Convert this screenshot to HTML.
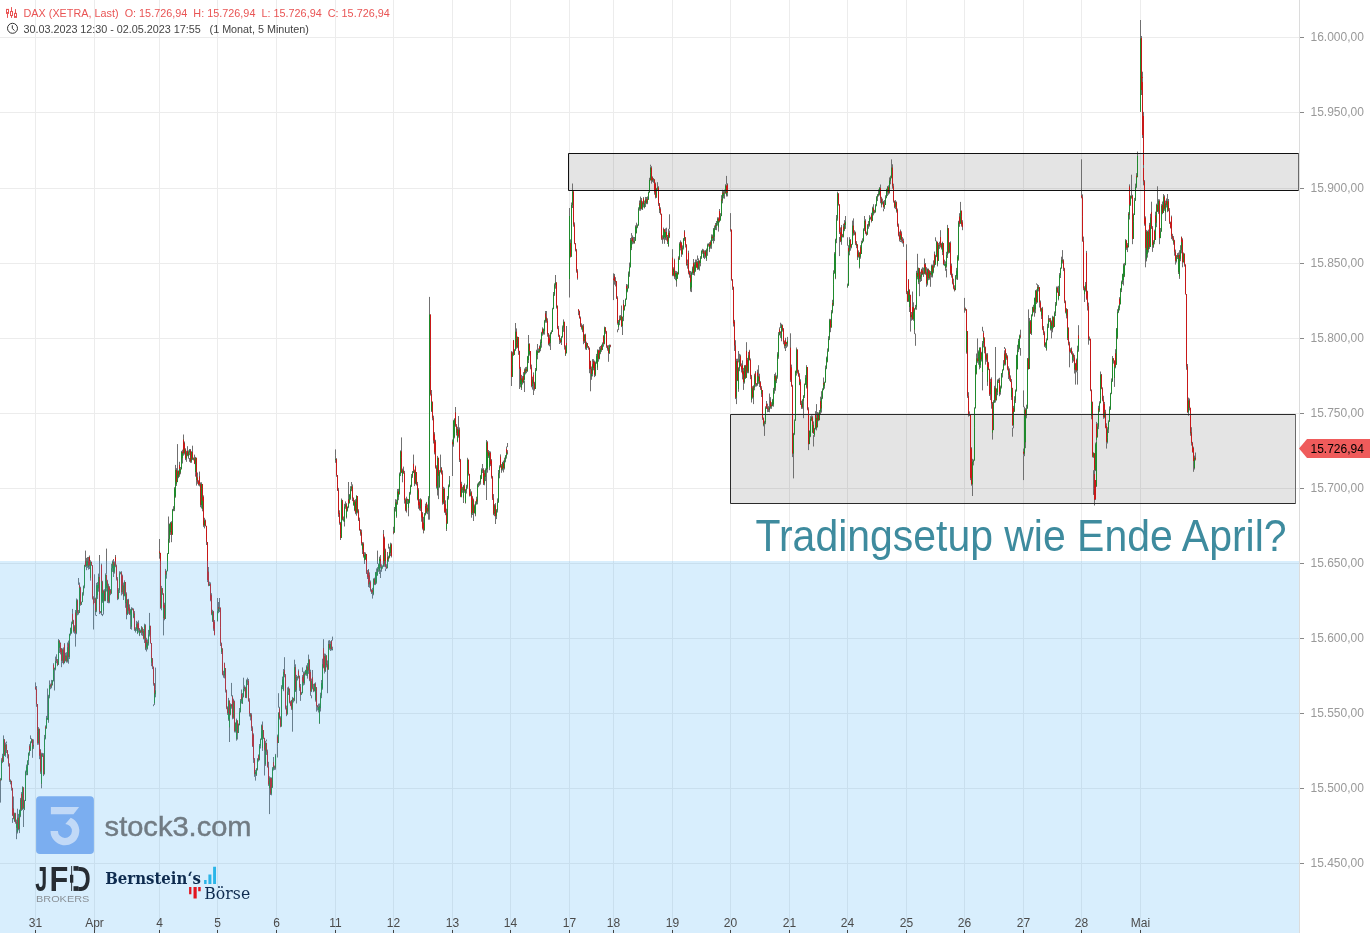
<!DOCTYPE html><html><head><meta charset="utf-8"><title>DAX Chart</title><style>
html,body{margin:0;padding:0;background:#fff;}body{width:1370px;height:933px;overflow:hidden;position:relative;font-family:"Liberation Sans",Arial,sans-serif;}
svg{position:absolute;left:0;top:0;}
.yl{font-size:12px;fill:#999;}.xl{font-size:12px;fill:#4a4a4a;}
</style></head><body>
<svg width="1370" height="933" viewBox="0 0 1370 933">
<path d="M0 37.5H1299M0 112.5H1299M0 188.5H1299M0 263.5H1299M0 338.5H1299M0 413.5H1299M0 488.5H1299M0 563.5H1299M0 638.5H1299M0 713.5H1299M0 788.5H1299M0 863.5H1299M35.5 0V933M94.5 0V933M159.5 0V933M217.5 0V933M276.5 0V933M335.5 0V933M393.5 0V933M452.5 0V933M510.5 0V933M569.5 0V933M613.5 0V933M672.5 0V933M730.5 0V933M789.5 0V933M847.5 0V933M906.5 0V933M964.5 0V933M1023.5 0V933M1081.5 0V933M1140.5 0V933" stroke="#ececec" stroke-width="1" fill="none"/>
<rect x="568" y="153" width="731" height="38" fill="rgba(0,0,0,0.105)"/>
<rect x="730" y="414" width="566" height="90" fill="rgba(0,0,0,0.105)"/>
<g fill="none" stroke-width="1">
<path stroke="#707070" d="M0.5 778.2V783.2M0.5 778.7V781.5M1.5 765.8V780.2M1.5 758.2V766.6M2.5 755.3V761.4M2.5 753.8V763.1M3.5 737.8V761.7M4.5 739.3V754.3M4.5 751.0V756.0M5.5 746.2V756.8M5.5 742.5V750.3M6.5 743.5V753.0M6.5 748.4V752.8M7.5 750.2V758.4M8.5 754.4V763.3M8.5 758.5V766.5M9.5 763.4V769.7M9.5 767.6V781.9M10.5 779.7V784.1M10.5 779.6V784.3M11.5 780.9V790.6M12.5 787.9V795.5M12.5 793.9V816.1M13.5 807.3V818.5M13.5 808.0V819.3M14.5 817.7V821.7M14.5 812.6V821.8M15.5 812.8V823.7M16.5 819.6V828.7M16.5 821.0V828.9M17.5 820.9V833.5M17.5 815.6V831.9M18.5 813.9V830.3M19.5 825.2V830.9M19.5 809.6V826.4M20.5 808.2V817.1M20.5 797.9V817.1M21.5 792.6V802.0M21.5 792.2V810.9M22.5 786.3V809.6M23.5 787.4V799.6M23.5 797.4V809.1M24.5 806.0V810.1M24.5 799.9V809.5M25.5 788.5V801.0M25.5 770.6V789.8M26.5 764.6V775.3M27.5 763.9V775.2M27.5 760.2V774.7M28.5 758.6V765.1M28.5 752.4V761.0M29.5 744.2V755.7M29.5 745.3V753.3M30.5 741.3V750.8M31.5 738.5V743.2M31.5 738.5V742.4M32.5 739.3V753.6M32.5 744.7V753.2M33.5 743.2V748.9M0.5 782.7V802.6M3.5 735.4V738.3M6.5 741.5V743.0M12.5 818.0V822.9M13.5 796.5V808.5M16.5 828.4V839.2M17.5 808.7V816.1M19.5 825.9V833.1M23.5 809.6V827.0M30.5 735.4V739.0M32.5 753.1V757.8M33.5 739.4V743.7M35.5 685.0V689.8M36.5 686.0V699.3M36.5 692.5V706.8M37.5 704.0V732.4M37.5 730.7V744.8M38.5 727.1V744.7M39.5 728.8V738.6M39.5 735.1V759.2M40.5 749.8V758.5M40.5 749.1V773.9M41.5 769.2V784.6M41.5 752.7V783.7M42.5 752.9V757.0M43.5 753.2V772.7M43.5 767.4V775.2M44.5 745.0V774.3M44.5 734.9V747.5M45.5 725.6V739.4M45.5 725.7V730.2M46.5 715.9V728.5M47.5 717.4V720.0M47.5 714.5V719.9M48.5 714.0V722.8M48.5 694.8V720.1M49.5 693.3V696.9M49.5 684.2V698.3M50.5 683.6V689.2M51.5 680.7V688.3M51.5 679.9V687.0M52.5 681.5V685.3M52.5 680.0V683.5M53.5 663.2V681.5M53.5 664.9V671.4M54.5 667.6V672.2M55.5 663.0V670.2M55.5 656.6V670.2M56.5 654.3V663.2M56.5 657.8V662.9M57.5 659.0V664.0M57.5 661.0V666.2M58.5 639.1V664.9M59.5 640.2V652.0M59.5 641.5V653.0M60.5 642.5V648.9M60.5 643.6V654.4M61.5 648.0V653.2M61.5 648.1V661.7M62.5 648.4V663.1M63.5 647.4V656.3M63.5 651.3V664.4M64.5 643.2V663.3M64.5 643.2V661.3M65.5 652.7V661.5M65.5 653.6V660.2M66.5 652.2V662.6M67.5 656.0V662.5M67.5 642.5V659.5M68.5 642.2V651.2M68.5 640.6V659.1M69.5 640.4V659.0M69.5 633.6V642.9M70.5 627.6V635.6M71.5 626.6V633.7M71.5 621.6V633.4M72.5 612.3V624.2M72.5 613.2V621.1M73.5 619.8V629.2M73.5 623.5V632.6M74.5 625.2V633.7M75.5 612.1V628.9M75.5 610.0V638.7M76.5 607.1V634.2M76.5 598.5V612.3M77.5 599.4V615.3M77.5 611.3V614.4M78.5 610.0V614.6M79.5 584.3V612.9M79.5 582.5V589.4M80.5 586.7V605.7M80.5 599.2V605.2M81.5 602.2V605.0M81.5 601.6V603.9M82.5 592.2V602.1M83.5 591.6V595.6M83.5 585.5V592.8M84.5 573.0V588.3M84.5 564.7V578.3M85.5 556.5V567.1M85.5 559.4V566.7M86.5 557.9V570.2M87.5 558.5V567.7M87.5 557.1V567.5M88.5 556.9V567.5M88.5 561.7V569.6M89.5 555.5V569.0M89.5 556.2V566.7M90.5 561.5V580.5M90.5 560.3V580.3M91.5 561.8V565.8M92.5 565.3V596.1M92.5 592.2V599.5M93.5 596.3V606.3M35.5 682.4V685.5M41.5 784.1V788.3M43.5 774.7V776.1M47.5 688.5V715.0M49.5 680.4V684.7M54.5 671.7V690.5M61.5 661.2V667.2M68.5 658.6V663.7M72.5 608.9V612.8M75.5 638.2V646.6M78.5 578.0V584.8M85.5 550.6V557.0M93.5 605.8V629.5M94.5 597.1V603.1M95.5 597.6V614.0M95.5 608.9V615.5M96.5 582.9V612.2M97.5 584.7V598.9M97.5 582.1V596.3M98.5 584.2V591.7M98.5 573.6V589.3M99.5 574.2V606.6M99.5 602.3V614.1M100.5 611.0V613.3M101.5 563.6V615.1M101.5 565.1V583.6M102.5 580.8V602.7M102.5 587.6V602.5M103.5 589.7V614.5M103.5 590.2V611.7M104.5 589.2V601.3M105.5 582.4V601.2M105.5 573.4V586.6M106.5 574.4V588.2M106.5 577.0V591.5M107.5 579.8V602.4M107.5 583.5V602.9M108.5 583.7V603.3M109.5 586.4V603.2M109.5 586.3V592.0M110.5 589.0V592.7M110.5 590.8V595.2M111.5 588.6V593.6M111.5 563.8V590.2M112.5 560.5V571.9M113.5 559.0V573.7M113.5 563.8V577.0M114.5 563.6V573.6M114.5 561.4V572.4M115.5 556.6V566.7M115.5 557.3V567.2M116.5 564.6V580.5M117.5 577.1V594.4M117.5 590.4V599.2M118.5 589.9V599.3M118.5 588.2V592.7M119.5 580.8V593.0M119.5 571.3V585.5M120.5 571.7V574.4M121.5 571.2V589.4M121.5 581.5V595.4M122.5 575.0V594.2M122.5 574.6V590.5M123.5 582.5V600.0M123.5 594.8V597.8M124.5 580.3V596.3M125.5 582.0V607.0M125.5 590.0V607.8M126.5 592.3V603.1M126.5 598.8V619.3M127.5 604.4V615.1M127.5 599.1V608.4M128.5 598.8V613.8M129.5 606.9V612.2M129.5 604.4V615.0M130.5 611.0V616.0M130.5 608.9V614.6M131.5 608.2V627.2M131.5 607.2V629.7M132.5 607.8V610.3M133.5 608.4V618.2M133.5 610.6V618.0M134.5 611.1V616.0M134.5 613.6V630.9M135.5 628.8V632.0M135.5 627.3V632.5M136.5 620.8V630.9M137.5 621.8V634.1M137.5 626.3V633.3M138.5 620.4V629.4M138.5 621.4V632.6M139.5 628.0V635.4M139.5 629.4V636.1M140.5 629.6V633.1M141.5 626.0V635.3M141.5 626.6V628.7M142.5 627.2V635.9M142.5 628.7V634.0M143.5 629.4V633.2M143.5 629.1V639.4M144.5 623.7V643.0M145.5 624.3V650.1M145.5 643.7V649.5M146.5 637.8V648.4M146.5 639.1V645.5M147.5 639.6V649.4M147.5 639.7V649.2M148.5 629.9V645.6M149.5 626.1V636.5M149.5 624.6V635.4M150.5 625.8V636.1M150.5 635.3V643.7M151.5 643.0V666.2M151.5 656.5V663.2M152.5 658.2V669.1M153.5 666.7V684.2M153.5 681.6V685.7M154.5 683.0V704.9M154.5 690.2V703.1M155.5 690.6V697.3M155.5 689.3V694.7M94.5 574.3V597.6M96.5 615.0V616.1M99.5 555.0V574.7M102.5 614.0V616.1M106.5 548.6V573.9M115.5 555.0V557.1M117.5 598.7V600.1M130.5 615.5V629.0M146.5 647.9V651.5M149.5 612.9V625.1M153.5 704.4V706.2M155.5 667.6V689.8M159.5 548.4V554.2M159.5 550.6V558.7M160.5 552.9V566.7M160.5 565.4V608.8M161.5 588.1V610.3M161.5 585.9V589.5M162.5 588.2V594.9M163.5 593.5V620.1M163.5 607.5V619.7M164.5 602.9V611.0M164.5 602.8V620.3M165.5 568.9V619.0M165.5 569.4V577.8M166.5 570.6V578.7M167.5 554.1V571.2M167.5 553.0V558.4M168.5 539.7V553.9M168.5 537.5V543.2M169.5 523.5V542.8M170.5 523.4V534.9M170.5 521.9V534.5M171.5 521.2V531.1M171.5 529.2V536.3M172.5 527.4V534.7M172.5 508.9V528.0M173.5 506.2V511.2M174.5 498.8V511.1M174.5 487.2V503.4M175.5 486.5V497.7M175.5 464.9V496.3M176.5 468.2V485.9M176.5 476.5V483.9M177.5 470.5V482.1M178.5 470.5V478.2M178.5 470.7V477.5M179.5 464.3V476.8M179.5 461.8V472.9M180.5 467.0V474.3M180.5 467.8V472.5M181.5 450.9V469.3M182.5 449.7V463.5M182.5 451.8V462.9M183.5 438.5V453.9M183.5 438.3V455.7M184.5 442.4V454.5M184.5 441.5V453.1M185.5 448.3V460.1M186.5 452.3V460.9M186.5 450.8V456.3M187.5 446.2V455.4M187.5 450.4V456.2M188.5 453.8V458.7M188.5 450.4V457.9M189.5 449.0V455.2M190.5 449.0V458.5M190.5 456.4V462.8M191.5 456.1V462.8M191.5 451.2V458.3M192.5 450.0V456.0M192.5 452.3V460.0M193.5 457.5V460.4M194.5 454.6V460.8M194.5 457.2V464.1M195.5 462.7V476.6M195.5 456.9V476.1M196.5 457.8V485.6M196.5 475.9V481.2M197.5 472.5V483.8M198.5 481.1V484.1M198.5 480.2V485.6M199.5 471.6V485.2M199.5 474.6V486.4M200.5 482.4V488.8M200.5 483.5V507.2M201.5 482.3V508.5M202.5 484.0V510.8M202.5 498.6V511.3M203.5 495.4V506.3M203.5 497.1V526.9M204.5 519.1V528.4M204.5 517.8V524.4M205.5 519.6V526.4M206.5 525.9V541.1M206.5 539.2V545.0M207.5 542.0V556.6M207.5 556.0V582.1M208.5 567.0V580.8M208.5 570.2V586.2M209.5 581.7V586.0M210.5 582.4V594.4M210.5 591.9V601.3M211.5 593.2V603.7M211.5 595.3V615.2M212.5 611.7V622.0M212.5 609.8V622.0M213.5 610.9V630.8M214.5 620.2V630.8M214.5 620.3V635.4M159.5 539.0V548.9M163.5 619.6V635.4M168.5 516.5V538.0M171.5 534.0V542.2M177.5 444.1V471.0M183.5 434.5V438.8M186.5 460.4V461.8M189.5 458.0V461.8M192.5 445.7V450.5M217.5 616.2V621.5M217.5 610.0V620.6M218.5 602.0V613.2M218.5 605.5V611.1M219.5 604.8V612.1M220.5 607.6V628.2M220.5 626.8V646.0M221.5 642.6V654.0M221.5 646.7V652.9M222.5 648.4V662.4M222.5 658.5V675.3M223.5 670.8V677.7M224.5 662.6V678.4M224.5 663.3V670.0M225.5 668.0V685.4M225.5 677.7V692.5M226.5 689.6V697.1M226.5 691.6V709.2M227.5 706.4V714.9M228.5 711.2V720.8M228.5 697.9V720.0M229.5 700.6V729.2M229.5 713.3V730.4M230.5 709.1V715.3M230.5 703.3V712.0M231.5 704.0V708.7M232.5 695.8V707.4M232.5 695.3V719.3M233.5 699.7V718.8M233.5 698.7V704.6M234.5 700.6V703.5M234.5 701.7V732.4M235.5 722.3V732.5M236.5 721.8V740.3M236.5 718.6V740.5M237.5 720.4V732.9M237.5 728.6V735.2M238.5 723.8V733.0M238.5 723.6V727.7M239.5 708.0V725.4M240.5 709.6V712.5M240.5 699.0V711.2M241.5 692.7V703.5M241.5 689.5V703.1M242.5 699.0V703.9M242.5 693.1V703.3M243.5 686.1V697.5M244.5 685.4V691.3M244.5 685.8V689.8M245.5 686.7V694.2M245.5 691.6V698.0M246.5 688.7V698.2M246.5 679.4V693.1M247.5 678.4V685.1M248.5 679.0V697.5M248.5 694.1V701.7M249.5 698.3V711.2M249.5 709.2V716.5M250.5 713.0V720.4M250.5 713.0V717.6M251.5 713.2V731.0M252.5 726.3V736.2M252.5 731.1V747.0M253.5 733.4V746.6M253.5 734.9V762.9M254.5 758.0V767.1M254.5 764.1V776.8M255.5 769.9V776.7M256.5 771.3V776.0M256.5 768.1V774.6M257.5 767.4V770.5M257.5 758.1V769.2M258.5 754.6V761.5M258.5 754.7V761.2M259.5 744.0V760.4M260.5 742.9V747.9M260.5 738.5V748.5M261.5 728.9V739.8M261.5 724.5V734.1M262.5 722.6V749.5M262.5 728.3V750.9M263.5 730.1V739.0M264.5 737.9V751.6M264.5 746.1V750.7M265.5 747.0V765.4M265.5 740.9V765.8M266.5 742.6V754.9M267.5 749.6V754.7M267.5 753.6V767.6M268.5 761.8V781.7M268.5 777.6V785.9M269.5 781.4V791.2M269.5 776.3V789.1M270.5 777.2V795.0M271.5 777.7V795.3M271.5 777.6V789.3M272.5 781.4V788.0M272.5 767.1V783.3M273.5 761.6V770.5M273.5 757.0V768.6M274.5 765.6V769.9M275.5 765.3V768.7M275.5 753.9V769.7M217.5 598.0V610.5M219.5 598.0V605.3M229.5 729.9V742.0M231.5 682.9V696.3M237.5 734.7V739.5M243.5 677.7V685.9M247.5 677.7V678.9M255.5 776.3V780.6M262.5 721.5V723.1M264.5 751.1V775.5M266.5 739.5V741.4M269.5 790.7V814.1M277.5 735.6V740.7M277.5 734.6V746.8M278.5 712.2V743.0M279.5 707.1V715.1M279.5 706.8V719.5M280.5 716.3V721.9M280.5 720.3V727.3M281.5 711.6V726.5M281.5 685.2V712.8M282.5 676.6V689.1M283.5 677.7V691.2M283.5 669.0V689.8M284.5 669.3V677.3M284.5 668.7V677.0M285.5 674.0V689.4M285.5 687.4V709.5M286.5 705.6V716.2M287.5 707.8V714.4M287.5 687.4V711.0M288.5 686.6V695.0M288.5 687.6V693.4M289.5 688.4V703.4M290.5 700.8V704.4M290.5 701.0V706.2M291.5 699.9V709.9M291.5 700.5V709.3M292.5 707.6V711.9M292.5 696.9V711.1M293.5 697.8V702.5M294.5 676.1V701.2M294.5 664.2V682.6M295.5 664.3V691.4M295.5 689.4V692.0M296.5 676.1V694.0M296.5 674.9V682.5M297.5 676.1V680.5M298.5 669.4V678.5M298.5 671.1V678.1M299.5 675.8V685.5M299.5 679.5V690.9M300.5 684.8V689.0M300.5 684.0V697.5M301.5 691.9V694.7M302.5 675.1V693.2M302.5 676.7V684.5M303.5 671.6V685.0M303.5 672.0V685.5M304.5 671.8V684.7M304.5 671.5V675.6M305.5 669.8V675.4M306.5 669.3V674.9M306.5 665.3V675.8M307.5 663.1V678.1M307.5 669.3V678.6M308.5 663.5V673.9M308.5 657.7V667.3M309.5 659.5V681.2M310.5 669.7V681.3M310.5 672.1V695.8M311.5 678.6V692.1M311.5 680.0V683.1M312.5 676.7V681.7M312.5 676.8V689.3M313.5 683.9V692.2M314.5 687.2V691.5M314.5 683.3V689.8M315.5 682.4V701.4M315.5 686.6V701.4M316.5 687.2V696.5M316.5 691.5V711.6M317.5 705.1V710.4M318.5 706.1V711.2M318.5 703.7V712.5M319.5 706.0V723.8M319.5 703.5V723.2M320.5 703.2V711.5M320.5 692.7V710.1M321.5 680.0V698.2M322.5 681.5V689.7M322.5 658.7V688.1M323.5 644.2V666.1M323.5 644.1V668.3M324.5 654.6V671.6M324.5 653.5V673.5M325.5 653.8V672.0M326.5 655.4V663.0M326.5 662.5V667.4M327.5 663.0V666.9M327.5 660.4V671.5M328.5 652.3V669.6M328.5 640.5V656.0M329.5 640.1V649.8M330.5 644.5V650.8M330.5 641.2V650.9M331.5 640.4V644.7M331.5 640.1V650.4M332.5 646.7V650.4M277.5 746.3V757.5M278.5 693.2V707.6M284.5 657.2V669.2M292.5 711.4V731.7M294.5 659.7V664.7M296.5 693.5V703.5M300.5 690.4V700.9M302.5 667.4V672.1M308.5 654.6V658.2M311.5 695.3V698.3M312.5 670.0V677.2M323.5 639.2V644.7M327.5 666.9V693.2M332.5 636.6V640.6M335.5 455.2V462.8M336.5 458.2V461.4M336.5 459.7V476.8M337.5 475.1V487.0M337.5 483.0V491.0M338.5 487.9V514.1M338.5 510.1V516.9M339.5 510.3V524.7M340.5 521.9V535.2M340.5 533.9V540.0M341.5 522.8V537.9M341.5 498.5V524.5M342.5 499.9V502.5M342.5 501.3V520.4M343.5 516.5V521.5M344.5 517.3V526.5M344.5 503.8V523.4M345.5 503.8V508.8M345.5 501.4V506.9M346.5 503.2V518.5M346.5 507.4V516.9M347.5 506.4V511.6M348.5 496.4V508.2M348.5 496.9V504.8M349.5 496.5V503.3M349.5 494.1V500.3M350.5 491.4V499.8M350.5 486.2V498.4M351.5 485.3V491.2M352.5 484.4V495.9M352.5 492.3V501.1M353.5 497.5V505.3M353.5 500.8V505.7M354.5 500.4V511.2M354.5 500.0V510.7M355.5 499.2V514.2M356.5 498.5V515.7M356.5 495.2V502.4M357.5 496.0V513.2M357.5 509.8V513.2M358.5 509.2V514.4M358.5 510.6V521.0M359.5 517.6V530.7M360.5 529.1V534.5M360.5 529.6V535.7M361.5 529.7V537.5M361.5 535.6V545.5M362.5 542.3V550.7M362.5 542.4V554.0M363.5 542.3V557.6M364.5 552.1V560.6M364.5 553.6V564.0M365.5 553.3V559.7M365.5 552.5V560.0M366.5 554.0V573.9M366.5 568.8V574.0M367.5 570.0V579.0M368.5 570.0V578.3M368.5 569.0V587.1M369.5 574.4V587.8M369.5 572.4V584.5M370.5 580.5V589.2M370.5 585.8V591.6M371.5 589.2V594.0M372.5 589.4V594.3M372.5 587.9V593.8M373.5 591.6V594.4M373.5 578.3V595.3M374.5 577.7V585.1M374.5 579.2V584.9M375.5 571.9V585.1M376.5 568.4V583.8M376.5 569.3V582.3M377.5 571.0V575.8M377.5 567.1V575.1M378.5 563.5V571.8M379.5 563.8V571.3M379.5 556.7V574.0M380.5 555.1V566.0M380.5 562.0V568.6M381.5 564.3V570.0M381.5 565.1V571.8M382.5 565.4V568.8M383.5 532.3V566.6M383.5 532.3V565.6M384.5 536.6V566.8M384.5 538.3V552.2M385.5 548.7V555.2M385.5 549.5V567.5M386.5 564.2V569.0M387.5 552.0V568.2M387.5 556.4V562.4M388.5 555.8V561.8M388.5 555.9V559.0M389.5 548.1V558.4M389.5 546.8V555.8M390.5 542.7V556.1M391.5 543.4V556.7M335.5 449.4V455.7M348.5 482.0V497.0M351.5 482.0V484.9M372.5 593.9V598.6M377.5 550.6V564.0M380.5 569.5V578.0M383.5 530.0V532.8M385.5 568.5V571.1M388.5 543.7V548.6M391.5 556.2V557.4M393.5 526.8V534.3M394.5 509.7V532.6M394.5 507.0V512.2M395.5 499.2V511.5M396.5 499.6V517.3M396.5 500.9V517.7M397.5 496.3V504.8M397.5 489.0V498.4M398.5 488.8V498.9M398.5 491.3V500.2M399.5 472.5V494.6M400.5 454.9V476.1M400.5 450.4V457.9M401.5 448.6V459.7M401.5 454.9V473.1M402.5 470.8V478.7M402.5 468.6V482.3M403.5 466.6V473.8M404.5 470.9V489.5M404.5 486.2V503.6M405.5 498.4V505.2M405.5 502.4V511.2M406.5 507.5V512.6M406.5 496.7V511.3M407.5 498.8V504.0M408.5 500.2V508.8M408.5 499.0V508.6M409.5 499.8V503.3M409.5 491.9V503.1M410.5 488.7V494.7M410.5 484.8V491.9M411.5 479.7V487.0M411.5 474.0V482.9M412.5 471.0V477.9M413.5 462.3V473.1M413.5 461.8V473.0M414.5 469.6V481.0M414.5 478.7V486.1M415.5 465.6V484.3M415.5 467.2V473.2M416.5 472.1V485.5M417.5 481.9V500.3M417.5 487.3V499.6M418.5 488.1V496.2M418.5 492.3V508.8M419.5 499.2V507.4M419.5 499.3V510.4M420.5 498.2V511.1M421.5 499.6V507.5M421.5 505.5V521.7M422.5 512.1V519.6M422.5 512.5V529.6M423.5 519.9V530.5M423.5 516.8V531.9M424.5 513.0V530.4M425.5 505.4V515.4M425.5 503.7V515.1M426.5 501.9V513.5M426.5 502.7V510.2M427.5 504.5V510.9M427.5 506.1V514.2M428.5 496.1V514.5M429.5 439.6V501.1M429.5 312.6V442.8M430.5 314.5V367.9M430.5 366.6V395.6M431.5 390.0V412.0M431.5 399.6V411.8M432.5 401.7V420.3M433.5 415.7V425.4M433.5 420.1V443.5M434.5 433.0V442.8M434.5 432.2V454.4M435.5 439.8V455.5M435.5 441.7V468.6M436.5 465.3V488.5M437.5 485.3V492.0M437.5 455.9V495.5M438.5 457.8V478.2M438.5 472.8V477.7M439.5 470.7V487.8M439.5 470.1V487.0M440.5 467.8V472.6M441.5 467.3V472.3M441.5 467.1V474.5M442.5 470.4V501.2M442.5 498.7V504.7M443.5 497.1V504.1M443.5 486.8V501.2M444.5 487.7V512.8M445.5 500.3V513.6M445.5 502.8V515.2M446.5 508.7V531.0M446.5 518.4V529.2M447.5 506.9V523.6M447.5 496.0V511.1M448.5 484.5V499.6M449.5 478.9V487.2M401.5 437.4V449.1M408.5 508.3V516.3M413.5 454.6V462.3M423.5 531.4V533.4M428.5 514.0V519.7M429.5 296.9V313.1M429.5 500.6V519.7M438.5 477.7V499.1M440.5 454.6V468.3M449.5 476.0V479.4M452.5 439.9V443.7M452.5 439.5V446.3M453.5 419.8V446.7M454.5 419.9V438.3M454.5 418.2V438.1M455.5 411.3V421.4M455.5 412.3V426.8M456.5 424.1V433.3M456.5 424.8V435.5M457.5 426.8V442.3M457.5 435.4V442.1M458.5 426.4V437.7M459.5 427.4V460.4M459.5 452.9V462.0M460.5 458.9V486.5M460.5 482.9V497.2M461.5 482.3V497.3M461.5 481.8V489.3M462.5 486.8V492.8M463.5 485.7V500.8M463.5 485.1V500.1M464.5 483.5V490.8M464.5 485.7V492.8M465.5 489.1V503.5M465.5 489.6V502.5M466.5 484.8V493.5M467.5 467.6V488.7M467.5 457.8V472.0M468.5 459.7V473.4M468.5 470.3V475.6M469.5 473.9V483.9M469.5 481.0V496.5M470.5 489.1V496.2M471.5 491.3V517.7M471.5 511.9V516.1M472.5 495.9V515.0M472.5 497.5V501.3M473.5 498.6V503.8M473.5 500.2V515.8M474.5 504.5V513.5M475.5 501.4V516.3M475.5 501.7V514.7M476.5 497.3V504.7M476.5 496.7V502.0M477.5 491.7V504.3M477.5 483.5V494.6M478.5 482.2V487.2M479.5 481.2V483.9M479.5 481.1V485.7M480.5 478.6V484.6M480.5 474.9V481.5M481.5 474.8V479.1M481.5 468.3V478.6M482.5 468.7V473.0M483.5 468.2V476.5M483.5 472.9V485.0M484.5 470.2V485.3M484.5 471.3V476.6M485.5 474.7V481.1M485.5 468.4V479.8M486.5 440.7V471.2M487.5 441.2V469.4M487.5 450.2V472.7M488.5 450.0V457.5M488.5 454.0V457.9M489.5 455.0V470.2M489.5 451.1V469.4M490.5 451.5V466.1M491.5 459.3V467.4M491.5 459.5V478.6M492.5 475.9V488.0M492.5 486.3V500.0M493.5 494.1V509.6M493.5 505.8V515.2M494.5 509.9V516.2M494.5 504.1V515.0M495.5 503.1V520.5M496.5 513.5V519.1M496.5 509.1V517.0M497.5 506.2V512.5M497.5 498.4V507.7M498.5 499.8V502.8M498.5 470.0V501.1M499.5 465.3V478.3M500.5 454.4V467.7M500.5 456.5V466.6M501.5 464.1V472.8M501.5 468.2V471.3M502.5 464.7V470.5M502.5 461.9V468.2M503.5 460.6V472.4M504.5 462.8V469.5M504.5 457.7V465.4M505.5 456.8V462.3M505.5 455.0V460.5M506.5 448.3V458.6M506.5 446.6V454.0M507.5 450.1V454.6M452.5 445.8V476.0M455.5 407.0V411.8M458.5 416.0V426.9M463.5 500.3V503.0M473.5 503.3V521.0M482.5 464.0V468.8M486.5 440.0V441.2M486.5 470.7V500.0M495.5 520.0V524.0M507.5 443.0V447.1M511.5 352.0V354.5M511.5 351.1V378.4M512.5 361.7V376.9M512.5 351.7V365.3M513.5 340.0V355.7M513.5 339.9V355.7M514.5 349.1V354.8M515.5 346.9V350.9M515.5 327.7V350.2M516.5 328.4V344.9M516.5 340.5V348.8M517.5 342.8V348.1M517.5 336.5V345.7M518.5 337.1V354.8M519.5 350.9V363.1M519.5 358.6V370.1M520.5 366.9V386.8M520.5 379.3V387.3M521.5 378.5V390.0M521.5 374.9V389.1M522.5 376.1V384.6M523.5 372.1V383.2M523.5 374.8V381.0M524.5 370.0V380.2M524.5 368.5V376.6M525.5 367.2V374.4M525.5 367.7V372.2M526.5 366.8V373.2M527.5 364.5V371.8M527.5 355.9V367.3M528.5 353.7V361.0M528.5 342.3V363.1M529.5 343.3V355.0M529.5 349.6V355.7M530.5 351.1V369.3M531.5 364.6V374.0M531.5 367.8V387.3M532.5 383.9V389.6M532.5 376.7V387.4M533.5 372.4V381.1M533.5 373.3V387.8M534.5 381.8V390.6M535.5 386.2V389.0M535.5 368.0V386.9M536.5 361.6V371.1M536.5 349.7V366.2M537.5 350.7V356.7M537.5 349.6V359.3M538.5 348.4V353.0M539.5 345.6V352.7M539.5 345.8V351.2M540.5 342.6V351.2M540.5 339.4V347.4M541.5 341.1V347.7M541.5 331.8V345.6M542.5 327.9V335.7M542.5 327.4V334.7M543.5 328.5V334.6M544.5 328.5V332.8M544.5 319.9V334.6M545.5 312.2V322.7M545.5 311.0V318.7M546.5 315.5V322.6M546.5 316.3V322.3M547.5 318.3V336.7M548.5 333.0V339.2M548.5 335.4V345.3M549.5 335.8V346.3M549.5 334.7V344.1M550.5 339.3V344.6M550.5 332.2V342.4M551.5 330.3V334.2M552.5 316.8V332.0M552.5 307.8V319.7M553.5 302.4V309.2M553.5 292.0V303.0M554.5 286.0V295.9M554.5 283.3V289.8M555.5 281.0V288.7M556.5 282.4V308.5M556.5 303.9V308.2M557.5 305.7V316.9M557.5 316.2V329.2M558.5 325.9V335.3M558.5 332.8V336.9M559.5 334.8V342.8M560.5 338.2V341.6M560.5 338.7V343.2M561.5 339.2V345.0M561.5 336.1V340.8M562.5 326.5V337.7M562.5 325.5V330.6M563.5 319.4V331.8M564.5 321.8V348.2M564.5 341.3V349.6M565.5 345.4V356.0M565.5 350.1V354.8M566.5 341.0V353.3M566.5 342.3V347.2M511.5 377.9V386.0M515.5 323.0V347.4M519.5 369.6V389.0M524.5 380.5V392.0M528.5 335.0V342.8M533.5 386.9V395.0M537.5 344.0V350.1M546.5 311.0V316.0M550.5 344.1V350.0M555.5 275.0V281.5M559.5 342.3V344.0M566.5 326.0V341.5M569.5 252.9V259.0M569.5 241.4V258.1M570.5 239.4V257.5M571.5 239.6V256.7M571.5 202.5V240.8M572.5 195.3V208.0M572.5 190.0V198.4M573.5 191.3V204.9M573.5 203.1V226.7M574.5 222.4V244.2M575.5 243.0V247.7M575.5 245.5V251.4M576.5 248.9V258.5M576.5 254.5V272.7M577.5 269.2V279.7M569.5 258.5V297.5M572.5 183.5V195.8M578.5 309.3V315.2M579.5 310.6V317.5M579.5 314.2V318.7M580.5 316.5V326.9M581.5 323.4V328.3M581.5 324.9V329.6M582.5 324.8V331.6M582.5 325.7V332.2M583.5 324.1V337.4M583.5 330.4V344.2M584.5 334.2V343.0M585.5 333.7V345.2M585.5 339.7V349.5M586.5 346.9V350.0M586.5 341.7V348.8M587.5 343.1V347.4M587.5 344.7V347.7M588.5 346.2V349.7M589.5 347.7V365.1M589.5 363.5V373.2M590.5 360.7V372.3M590.5 361.2V369.7M591.5 366.5V379.8M591.5 373.1V377.4M592.5 362.3V376.4M593.5 359.2V368.1M593.5 359.9V370.3M594.5 360.6V368.7M594.5 361.4V377.1M595.5 364.1V376.1M595.5 361.6V368.6M596.5 353.9V363.8M597.5 355.3V370.0M597.5 349.4V367.5M598.5 349.7V354.8M598.5 351.7V361.7M599.5 349.6V359.3M599.5 346.9V355.8M600.5 346.0V354.2M601.5 344.8V351.7M601.5 344.8V351.3M602.5 343.5V349.9M602.5 342.4V348.1M603.5 335.7V346.7M603.5 335.2V345.1M604.5 326.6V344.3M605.5 327.0V333.3M605.5 330.4V333.7M606.5 330.9V342.8M606.5 339.0V347.8M607.5 345.3V350.7M607.5 346.4V350.0M608.5 345.1V353.0M608.5 347.0V354.2M609.5 344.5V354.0M610.5 344.7V347.3M590.5 371.8V391.3M592.5 359.1V362.8M608.5 352.5V361.8M613.5 275.9V282.8M613.5 276.9V284.3M614.5 273.9V284.7M614.5 274.8V282.4M615.5 277.2V283.5M615.5 278.6V286.4M616.5 281.2V299.0M617.5 296.3V305.4M617.5 301.2V324.7M618.5 321.1V329.9M618.5 320.0V330.1M619.5 316.7V325.2M619.5 315.5V321.7M620.5 315.1V320.4M621.5 315.4V318.4M621.5 314.0V327.1M622.5 320.7V329.3M622.5 316.5V323.8M623.5 300.1V321.1M623.5 299.9V311.7M624.5 305.1V310.6M625.5 302.2V306.4M625.5 298.5V302.8M626.5 284.6V299.8M626.5 284.0V293.1M627.5 284.5V291.6M627.5 285.4V292.3M628.5 271.5V288.3M629.5 267.8V276.8M629.5 262.6V271.8M630.5 252.6V267.3M630.5 238.0V255.3M631.5 238.9V249.9M631.5 236.3V250.1M632.5 235.4V241.7M632.5 236.9V244.3M633.5 236.9V243.7M634.5 240.3V243.7M634.5 237.0V242.5M635.5 229.6V240.8M635.5 225.3V234.3M636.5 222.7V233.5M636.5 223.4V232.8M637.5 224.4V228.2M638.5 207.4V225.5M638.5 207.7V211.1M639.5 202.3V210.7M639.5 200.5V206.1M640.5 201.6V210.8M640.5 196.6V210.0M641.5 198.0V209.4M642.5 207.6V210.0M642.5 201.2V209.3M643.5 197.3V205.8M643.5 197.3V207.3M644.5 200.6V208.4M644.5 201.2V207.7M645.5 196.9V207.0M646.5 197.0V202.4M646.5 198.1V204.1M647.5 197.8V204.2M647.5 196.4V201.0M648.5 193.2V199.7M648.5 191.6V196.4M649.5 177.8V192.5M650.5 171.5V180.6M650.5 166.9V174.6M651.5 166.2V181.4M651.5 177.7V183.6M652.5 176.9V181.9M652.5 176.4V181.3M653.5 178.0V182.8M654.5 179.2V190.7M654.5 188.0V194.7M655.5 182.5V192.9M655.5 183.4V198.4M656.5 194.9V197.9M656.5 187.9V197.8M657.5 186.1V190.1M658.5 186.2V192.2M658.5 190.6V205.9M659.5 203.0V212.8M659.5 208.0V213.1M660.5 207.3V212.7M660.5 211.6V214.8M661.5 213.8V219.4M661.5 217.8V239.9M662.5 235.3V240.5M663.5 227.6V239.6M663.5 228.4V233.0M664.5 229.1V241.0M664.5 229.1V241.9M665.5 228.4V238.9M665.5 230.4V239.9M666.5 231.1V240.5M667.5 235.0V241.4M667.5 239.2V244.0M668.5 240.2V246.8M668.5 228.8V245.7M669.5 230.5V238.1M613.5 273.3V276.4M613.5 283.8V300.1M617.5 329.4V332.3M621.5 305.5V314.5M622.5 328.8V335.0M631.5 233.1V235.9M650.5 164.7V166.7M657.5 182.2V186.6M662.5 240.0V243.8M664.5 241.4V243.8M666.5 227.7V231.6M669.5 214.3V229.3M672.5 255.3V262.0M672.5 255.5V276.2M673.5 269.0V276.2M673.5 267.3V275.2M674.5 258.7V271.3M674.5 260.3V278.9M675.5 270.8V280.2M676.5 271.2V284.1M676.5 271.5V282.0M677.5 271.8V278.9M677.5 273.6V278.4M678.5 257.1V274.3M678.5 256.3V262.2M679.5 242.3V260.0M680.5 240.4V245.8M680.5 241.1V250.4M681.5 241.8V250.5M681.5 242.5V256.9M682.5 248.1V254.7M682.5 245.4V251.8M683.5 238.0V249.5M684.5 230.1V240.9M684.5 231.6V238.6M685.5 237.3V246.6M685.5 243.1V247.5M686.5 244.5V264.8M686.5 261.3V265.7M687.5 259.5V268.7M688.5 250.7V266.1M688.5 253.0V274.3M689.5 270.6V274.1M689.5 271.2V277.7M690.5 271.0V290.7M690.5 279.9V291.6M691.5 280.2V289.6M691.5 271.6V290.1M692.5 266.6V274.8M693.5 261.6V271.0M693.5 261.3V275.0M694.5 264.2V275.6M694.5 262.3V270.3M695.5 263.0V271.9M695.5 259.5V270.7M696.5 259.6V267.8M697.5 261.6V268.8M697.5 260.8V269.6M698.5 266.9V269.2M698.5 258.4V269.5M699.5 260.3V264.8M699.5 261.6V266.8M700.5 256.1V266.3M701.5 250.5V258.9M701.5 250.6V253.7M702.5 249.3V252.5M702.5 248.8V253.8M703.5 249.4V257.5M703.5 252.0V258.0M704.5 250.4V259.1M705.5 250.2V255.0M705.5 250.4V257.8M706.5 254.6V260.4M706.5 248.6V260.9M707.5 248.6V255.8M707.5 243.6V253.5M708.5 243.3V246.6M709.5 242.2V252.1M709.5 245.9V250.9M710.5 240.8V248.6M710.5 240.5V246.5M711.5 243.4V247.0M711.5 234.4V248.8M712.5 234.6V241.0M713.5 237.6V243.5M713.5 228.0V241.8M714.5 226.3V241.1M714.5 225.5V237.3M715.5 223.1V230.0M715.5 223.0V227.1M716.5 221.0V230.2M717.5 219.2V225.6M717.5 217.3V222.0M718.5 217.4V231.6M718.5 219.5V229.0M719.5 209.0V222.4M719.5 209.6V221.9M720.5 213.2V220.5M721.5 195.5V216.1M721.5 195.3V203.4M722.5 191.4V203.3M722.5 189.8V194.6M723.5 190.5V198.4M723.5 190.7V196.3M724.5 189.6V198.7M725.5 189.1V193.7M725.5 184.2V193.4M726.5 185.1V196.4M726.5 190.4V196.2M727.5 183.3V196.4M727.5 184.6V193.6M672.5 249.2V255.8M676.5 283.6V286.7M691.5 289.6V292.1M693.5 259.0V261.8M697.5 255.5V260.1M697.5 268.3V269.7M699.5 266.3V270.6M726.5 175.9V184.7M730.5 227.2V231.6M731.5 229.7V249.8M731.5 247.9V280.7M732.5 279.1V283.4M732.5 281.8V289.9M733.5 286.8V326.5M734.5 319.9V325.1M734.5 321.8V350.9M735.5 340.2V385.1M735.5 379.3V399.1M736.5 394.5V399.4M736.5 358.8V397.7M737.5 358.7V381.1M738.5 379.6V391.8M738.5 367.2V389.8M739.5 361.9V371.2M739.5 353.8V363.3M740.5 354.6V361.5M740.5 356.2V366.6M741.5 363.4V372.5M742.5 363.4V370.8M742.5 360.4V379.4M743.5 370.3V375.6M743.5 367.9V384.8M744.5 365.1V383.6M745.5 364.9V371.9M745.5 368.4V378.9M746.5 350.3V377.8M746.5 349.1V367.8M747.5 359.6V366.9M747.5 357.9V373.2M748.5 351.9V373.2M749.5 349.8V356.5M749.5 351.3V360.5M750.5 358.4V366.3M750.5 361.1V379.2M751.5 374.9V401.1M751.5 386.5V402.5M752.5 386.2V398.6M753.5 385.9V402.1M753.5 385.4V389.1M754.5 384.4V390.3M754.5 373.7V386.7M755.5 371.2V377.2M755.5 371.5V386.7M756.5 383.0V386.5M757.5 369.7V385.8M757.5 369.9V378.2M758.5 375.1V383.0M758.5 373.5V383.8M759.5 373.7V384.0M759.5 377.2V387.0M760.5 381.2V389.9M761.5 386.2V394.7M761.5 386.7V397.0M762.5 390.1V394.1M762.5 392.5V419.9M763.5 417.5V426.3M763.5 421.9V426.1M764.5 420.7V428.1M765.5 419.8V424.2M765.5 406.3V423.0M766.5 401.5V408.5M766.5 401.0V409.0M767.5 405.2V412.2M767.5 403.6V409.7M768.5 406.1V412.0M769.5 407.8V412.3M769.5 403.3V409.7M770.5 397.7V408.6M770.5 397.2V408.4M771.5 403.3V408.6M771.5 402.2V408.6M772.5 398.9V406.3M773.5 397.6V406.7M773.5 387.9V405.1M774.5 377.3V393.7M774.5 374.1V384.3M775.5 372.6V390.8M775.5 378.9V389.6M776.5 375.3V383.1M777.5 360.5V378.7M777.5 352.2V362.3M778.5 348.7V358.8M778.5 332.1V357.2M779.5 327.8V335.4M779.5 327.5V333.0M780.5 331.2V337.9M781.5 331.9V339.5M781.5 323.8V341.3M782.5 324.6V330.3M782.5 327.1V331.6M783.5 328.0V331.6M783.5 329.3V344.3M784.5 340.5V348.4M785.5 338.6V346.7M785.5 337.8V344.8M786.5 341.8V347.7M786.5 342.0V347.6M787.5 341.8V346.6M787.5 338.9V344.0M730.5 213.1V227.7M736.5 398.9V404.1M738.5 351.0V362.4M743.5 384.3V389.9M746.5 342.2V349.6M753.5 389.8V404.1M758.5 365.2V374.0M764.5 427.6V435.9M769.5 393.5V403.8M780.5 322.7V328.0M785.5 346.2V351.0M787.5 336.9V339.4M790.5 346.9V350.6M790.5 346.7V381.9M791.5 364.6V382.2M791.5 366.4V386.8M792.5 384.8V412.9M792.5 409.5V457.1M793.5 432.9V457.5M794.5 420.2V435.1M794.5 419.4V424.1M795.5 386.5V420.7M795.5 370.6V388.8M796.5 369.6V375.6M796.5 348.3V374.8M797.5 349.5V373.6M798.5 369.8V375.2M798.5 370.1V376.8M799.5 373.3V385.1M799.5 379.2V385.1M800.5 379.3V392.3M800.5 387.2V405.0M801.5 400.7V408.9M802.5 399.1V408.8M802.5 400.0V405.5M803.5 397.7V401.5M803.5 395.1V401.9M804.5 389.6V398.0M804.5 383.5V392.3M805.5 375.1V385.0M806.5 376.4V388.0M806.5 365.8V388.5M807.5 367.0V393.6M807.5 390.3V410.3M808.5 407.3V428.2M808.5 424.4V445.9M809.5 430.4V444.1M810.5 426.8V437.2M810.5 416.1V436.1M811.5 417.2V421.1M811.5 415.3V420.6M812.5 415.7V432.7M812.5 422.6V433.1M813.5 421.4V434.1M814.5 430.2V435.6M814.5 427.9V436.8M815.5 411.6V429.5M815.5 411.3V418.8M816.5 415.2V430.4M816.5 423.9V428.9M817.5 412.1V427.3M818.5 412.5V418.2M818.5 416.1V421.2M819.5 413.2V420.2M819.5 410.0V417.5M820.5 399.9V414.6M820.5 396.7V409.3M821.5 401.8V412.6M821.5 391.2V405.4M822.5 388.3V399.1M823.5 380.3V390.3M823.5 377.5V385.9M824.5 382.4V388.7M824.5 381.7V385.7M825.5 375.3V382.5M825.5 365.5V378.5M826.5 356.6V369.2M827.5 354.1V362.4M827.5 348.4V361.3M828.5 341.9V351.5M828.5 336.2V343.9M829.5 321.6V340.1M829.5 318.8V324.0M830.5 318.9V332.2M831.5 322.5V327.5M831.5 310.1V323.3M832.5 300.6V313.4M832.5 299.8V306.5M833.5 282.8V306.1M833.5 270.3V286.2M834.5 252.2V273.8M835.5 251.5V279.2M835.5 238.7V277.6M836.5 228.2V243.2M836.5 215.0V232.6M837.5 201.1V220.7M837.5 191.7V203.8M838.5 193.4V205.6M839.5 204.4V216.7M839.5 213.9V234.0M840.5 227.4V237.5M840.5 232.9V242.1M841.5 225.1V244.8M841.5 225.8V236.3M842.5 233.9V237.4M843.5 225.0V237.5M843.5 223.7V231.0M844.5 220.1V231.2M844.5 222.2V225.4M845.5 220.2V228.9M790.5 333.3V347.2M793.5 457.0V478.4M796.5 347.5V348.8M803.5 401.4V418.2M806.5 365.2V366.3M808.5 445.4V450.1M813.5 435.1V446.5M816.5 404.1V415.7M839.5 237.0V256.1M845.5 216.0V220.7M847.5 283.6V287.8M848.5 245.2V285.6M848.5 247.3V253.6M849.5 246.6V255.3M849.5 237.6V253.2M850.5 239.1V250.7M851.5 244.2V248.3M851.5 243.9V245.8M852.5 235.3V244.5M852.5 220.6V237.4M853.5 220.2V229.8M853.5 225.3V235.6M854.5 230.3V235.2M855.5 231.6V238.2M855.5 233.8V245.1M856.5 241.1V247.1M856.5 243.1V248.2M857.5 244.4V257.3M857.5 254.0V260.0M858.5 250.4V257.6M859.5 252.3V268.5M859.5 255.6V267.1M860.5 246.5V258.7M860.5 245.2V255.5M861.5 242.6V254.0M861.5 240.7V244.6M862.5 238.3V243.3M863.5 235.0V241.7M863.5 228.3V239.2M864.5 221.8V231.1M864.5 219.3V228.1M865.5 219.2V225.4M865.5 222.5V234.2M866.5 231.5V235.8M867.5 231.0V234.6M867.5 224.1V231.6M868.5 221.0V228.8M868.5 222.2V226.1M869.5 221.0V225.9M869.5 215.2V226.6M870.5 216.7V219.6M871.5 212.8V218.4M871.5 214.0V222.5M872.5 209.7V220.9M872.5 206.7V212.6M873.5 206.5V215.4M873.5 210.1V214.2M874.5 209.8V213.4M875.5 204.8V212.6M875.5 204.2V208.5M876.5 196.7V206.3M876.5 196.2V199.2M877.5 194.9V201.1M877.5 194.0V197.8M878.5 189.4V196.5M879.5 192.0V195.1M879.5 187.1V195.4M880.5 184.5V193.7M880.5 191.3V203.3M881.5 196.8V207.2M881.5 201.7V207.3M882.5 198.6V204.5M883.5 200.9V207.0M883.5 204.0V207.7M884.5 200.0V209.0M884.5 201.4V206.5M885.5 199.7V205.0M885.5 195.3V201.3M886.5 188.7V198.3M887.5 186.7V196.1M887.5 186.0V195.6M888.5 185.3V192.8M888.5 189.3V194.7M889.5 188.4V193.6M889.5 177.4V190.8M890.5 175.7V184.3M891.5 164.4V178.4M891.5 163.4V169.0M892.5 164.3V182.4M892.5 178.6V188.7M893.5 183.7V195.8M893.5 190.4V202.6M894.5 200.6V208.2M895.5 202.4V209.1M895.5 200.1V204.5M896.5 201.5V211.5M896.5 208.7V212.6M897.5 208.5V224.3M897.5 219.7V226.8M898.5 223.6V236.4M899.5 231.7V239.0M899.5 236.7V241.4M900.5 229.5V240.6M900.5 230.5V237.5M901.5 231.4V237.4M901.5 233.0V242.4M902.5 237.1V243.5M903.5 238.6V246.8M847.5 237.3V245.7M849.5 237.3V247.1M853.5 218.4V220.7M864.5 216.0V219.7M873.5 204.2V207.0M883.5 208.5V211.3M891.5 159.4V163.9M900.5 240.9V242.0M906.5 256.8V261.8M906.5 259.4V294.1M907.5 290.9V302.0M908.5 279.0V302.0M908.5 280.1V293.3M909.5 289.6V312.0M909.5 293.2V308.2M910.5 294.7V302.8M910.5 299.7V320.6M911.5 312.0V320.7M912.5 303.7V319.3M912.5 306.8V319.9M913.5 304.2V320.8M913.5 302.3V315.1M914.5 311.1V330.5M914.5 308.2V334.1M915.5 304.9V309.6M916.5 295.9V309.8M916.5 270.8V298.5M917.5 270.8V279.3M917.5 275.0V277.9M918.5 275.8V283.2M918.5 267.6V284.1M919.5 268.2V282.9M920.5 274.2V281.9M920.5 271.7V277.9M921.5 268.7V281.0M921.5 269.0V276.5M922.5 269.5V274.9M922.5 267.3V274.6M923.5 267.7V276.9M924.5 260.7V274.3M924.5 262.5V269.4M925.5 263.1V268.4M925.5 263.1V274.8M926.5 270.0V275.0M926.5 267.2V286.1M927.5 268.4V285.4M928.5 268.6V277.3M928.5 275.0V280.2M929.5 270.1V279.7M929.5 271.0V274.4M930.5 271.1V277.6M930.5 272.5V276.9M931.5 264.6V277.3M932.5 264.6V277.5M932.5 268.4V277.0M933.5 260.4V273.3M933.5 263.1V269.1M934.5 251.9V267.6M934.5 251.6V265.8M935.5 254.9V264.7M936.5 240.7V257.1M936.5 241.0V246.2M937.5 241.8V266.4M937.5 259.2V264.3M938.5 247.9V260.9M938.5 243.1V251.0M939.5 241.7V248.9M940.5 236.3V247.4M940.5 235.0V246.0M941.5 243.6V247.5M941.5 242.9V249.5M942.5 246.8V252.9M942.5 241.7V255.1M943.5 243.1V252.3M943.5 247.9V265.2M944.5 259.7V266.1M945.5 261.3V270.8M945.5 262.5V269.1M946.5 263.0V267.1M946.5 251.8V267.7M947.5 249.0V258.0M947.5 224.9V254.7M948.5 228.2V253.6M949.5 243.1V253.1M949.5 242.1V246.8M950.5 241.4V254.8M950.5 249.6V274.9M951.5 264.9V277.3M951.5 263.5V277.5M952.5 273.7V284.4M953.5 278.7V287.0M953.5 283.4V289.3M954.5 285.3V291.4M954.5 287.8V291.1M955.5 277.4V290.1M955.5 275.0V283.7M956.5 267.9V279.5M957.5 268.9V280.0M957.5 255.2V278.5M958.5 254.3V260.7M958.5 220.8V259.3M959.5 213.2V223.1M959.5 214.1V226.8M960.5 210.1V223.7M961.5 210.7V218.6M961.5 216.6V226.6M962.5 220.2V226.0M962.5 222.1V227.8M906.5 244.3V257.3M910.5 307.7V331.6M912.5 291.5V304.2M915.5 333.6V345.8M917.5 253.8V275.5M919.5 282.4V296.2M924.5 258.5V263.0M926.5 285.6V286.8M930.5 277.1V286.8M935.5 237.3V241.2M940.5 230.2V235.5M946.5 268.6V277.4M960.5 201.9V210.6M962.5 227.3V230.2M964.5 305.1V312.7M965.5 307.6V310.7M966.5 309.3V353.5M966.5 330.5V353.4M967.5 331.1V377.0M967.5 371.8V397.9M968.5 392.2V402.5M968.5 397.8V416.6M969.5 411.4V416.0M970.5 414.0V464.3M970.5 455.8V480.1M971.5 447.2V480.3M971.5 448.5V485.7M972.5 478.3V485.5M972.5 458.8V481.2M973.5 459.5V465.4M974.5 426.7V460.5M974.5 407.3V427.4M975.5 400.1V408.3M975.5 364.9V401.5M976.5 361.4V374.5M976.5 353.5V373.5M977.5 353.8V362.8M978.5 353.1V364.7M978.5 350.4V357.2M979.5 349.4V368.4M979.5 347.3V369.3M980.5 347.2V366.6M980.5 358.0V367.9M981.5 351.8V361.5M982.5 350.9V372.5M982.5 341.0V372.6M983.5 330.8V347.4M983.5 333.0V339.2M984.5 337.6V353.3M984.5 345.2V350.9M985.5 346.6V359.9M985.5 355.2V364.6M986.5 353.3V361.8M987.5 353.1V385.9M987.5 365.6V383.7M988.5 361.9V369.0M988.5 362.2V370.1M989.5 368.8V389.9M989.5 385.5V396.0M990.5 378.8V400.1M991.5 377.3V385.3M991.5 379.0V408.7M992.5 402.0V435.4M992.5 429.5V432.5M993.5 403.6V430.1M993.5 400.2V405.2M994.5 385.8V403.0M995.5 385.6V397.5M995.5 391.6V402.5M996.5 396.4V400.3M996.5 388.3V398.4M997.5 386.8V395.2M997.5 379.4V392.9M998.5 378.6V383.0M999.5 377.8V394.9M999.5 390.7V395.1M1000.5 387.9V394.7M1000.5 385.6V393.1M1001.5 379.2V388.5M1001.5 373.0V384.1M1002.5 369.2V377.5M1003.5 360.1V370.5M1003.5 361.3V365.4M1004.5 350.3V364.8M1004.5 352.1V365.6M1005.5 348.4V365.3M1005.5 349.0V355.2M1006.5 353.1V359.8M1007.5 355.4V360.8M1007.5 355.7V370.3M1008.5 366.3V379.0M1008.5 369.1V375.4M1009.5 368.4V380.7M1009.5 376.0V379.3M1010.5 375.4V382.1M1011.5 379.1V397.9M1011.5 386.0V400.0M1012.5 387.8V393.7M1012.5 389.6V425.8M1013.5 406.9V428.3M1013.5 405.9V412.3M1014.5 396.2V411.7M1015.5 398.4V403.0M1015.5 389.5V399.9M1016.5 370.9V391.6M1016.5 354.8V373.7M1017.5 351.2V369.5M1017.5 344.8V368.9M1018.5 338.9V352.1M1019.5 338.2V349.3M1019.5 334.6V348.5M1020.5 331.7V338.5M964.5 297.9V305.6M972.5 485.2V496.0M977.5 338.4V354.0M982.5 326.8V331.3M982.5 372.1V390.4M992.5 434.9V439.6M995.5 347.0V386.1M999.5 394.4V396.2M1004.5 347.0V348.9M1012.5 427.8V436.7M1020.5 329.7V332.2M1020.5 348.0V355.7M1023.5 448.5V455.7M1024.5 406.7V456.2M1025.5 408.2V448.2M1025.5 415.0V442.2M1026.5 412.2V418.3M1026.5 404.7V414.6M1027.5 363.6V408.5M1027.5 358.0V369.2M1028.5 356.2V369.6M1029.5 352.8V369.0M1029.5 318.0V355.2M1030.5 320.0V331.9M1030.5 328.3V334.0M1031.5 314.8V335.0M1031.5 314.3V319.8M1032.5 306.8V316.4M1033.5 305.3V309.2M1033.5 304.8V312.6M1034.5 301.0V316.7M1034.5 297.6V302.5M1035.5 296.8V313.2M1035.5 290.1V310.2M1036.5 289.4V303.9M1037.5 284.2V302.7M1037.5 286.5V292.3M1038.5 285.1V291.4M1038.5 286.6V289.3M1039.5 287.2V300.8M1039.5 294.9V307.5M1040.5 300.5V311.7M1041.5 309.3V319.0M1041.5 307.8V316.2M1042.5 306.9V327.0M1042.5 319.1V330.2M1043.5 326.1V335.1M1043.5 328.3V334.2M1044.5 331.3V344.8M1044.5 339.5V346.9M1045.5 342.2V347.9M1046.5 339.5V350.7M1046.5 338.4V349.3M1047.5 335.7V340.2M1047.5 323.7V336.4M1048.5 315.5V328.0M1048.5 315.3V320.4M1049.5 318.0V322.0M1050.5 317.9V330.5M1050.5 320.4V329.9M1051.5 320.5V331.4M1051.5 323.8V329.8M1052.5 324.4V331.8M1052.5 315.8V332.3M1053.5 316.5V328.2M1054.5 314.7V326.9M1054.5 311.4V320.1M1055.5 302.2V316.0M1055.5 302.2V307.3M1056.5 297.5V305.8M1056.5 286.5V301.8M1057.5 286.5V292.8M1058.5 285.8V300.4M1058.5 294.3V298.9M1059.5 285.4V296.0M1059.5 273.1V288.8M1060.5 269.7V278.0M1060.5 267.5V273.8M1061.5 256.7V268.8M1062.5 255.5V262.6M1062.5 258.2V263.6M1063.5 259.3V266.4M1063.5 261.3V271.1M1064.5 267.8V272.9M1064.5 270.6V303.2M1065.5 300.5V313.4M1066.5 309.8V318.4M1066.5 308.1V316.3M1067.5 309.3V339.7M1067.5 325.0V340.1M1068.5 327.4V342.7M1068.5 338.8V345.4M1069.5 341.7V354.6M1070.5 348.3V352.8M1070.5 348.7V352.2M1071.5 348.2V351.6M1071.5 347.4V354.5M1072.5 351.9V361.7M1072.5 351.4V362.9M1073.5 353.3V361.5M1074.5 354.9V371.2M1074.5 361.8V373.5M1075.5 362.9V368.2M1075.5 366.1V375.6M1076.5 359.4V372.3M1076.5 358.6V371.8M1077.5 345.7V371.1M1078.5 333.7V351.8M1078.5 335.4V340.3M1023.5 390.4V407.2M1023.5 455.7V480.1M1028.5 309.4V356.7M1036.5 283.4V284.7M1051.5 331.3V338.4M1062.5 250.1V258.7M1069.5 354.1V367.3M1075.5 375.1V384.6M1077.5 371.3V384.6M1078.5 325.2V334.2M1081.5 194.0V198.3M1082.5 194.4V218.4M1082.5 215.3V241.8M1083.5 236.6V266.6M1083.5 259.1V290.3M1084.5 286.7V299.1M1084.5 286.4V294.7M1085.5 282.0V291.5M1086.5 250.9V287.2M1086.5 253.0V299.8M1087.5 290.7V300.6M1087.5 291.0V310.5M1088.5 302.6V323.6M1088.5 320.5V344.7M1089.5 336.5V340.6M1090.5 338.8V364.2M1090.5 358.6V391.2M1091.5 389.4V419.3M1091.5 400.0V419.0M1092.5 401.8V456.3M1092.5 453.6V457.4M1093.5 452.3V457.9M1094.5 453.2V470.7M1094.5 466.6V471.3M1095.5 464.4V471.1M1095.5 442.6V467.6M1096.5 421.9V447.3M1096.5 422.5V441.7M1097.5 423.2V437.4M1098.5 405.8V429.1M1098.5 407.2V413.0M1099.5 407.6V412.1M1099.5 401.3V408.9M1100.5 393.7V403.2M1100.5 373.8V396.1M1101.5 374.0V389.2M1102.5 387.3V400.5M1102.5 393.9V401.3M1103.5 395.8V404.9M1103.5 402.4V418.8M1104.5 402.2V418.3M1104.5 401.9V415.3M1105.5 409.8V428.3M1106.5 423.3V431.6M1106.5 425.0V443.7M1107.5 434.9V443.5M1107.5 427.2V439.7M1108.5 424.7V433.0M1108.5 420.3V428.2M1109.5 406.4V421.7M1110.5 397.1V409.9M1110.5 392.8V404.1M1111.5 390.0V394.2M1111.5 378.4V391.3M1112.5 361.1V381.9M1112.5 356.8V363.0M1113.5 358.3V363.6M1114.5 360.6V379.1M1114.5 365.7V382.0M1115.5 351.3V368.3M1115.5 349.2V366.4M1116.5 342.7V364.7M1116.5 328.0V347.3M1117.5 328.0V339.1M1117.5 309.2V337.4M1118.5 305.6V313.1M1119.5 297.3V310.4M1119.5 297.6V308.2M1120.5 289.8V304.3M1120.5 288.2V294.0M1121.5 288.1V290.6M1121.5 280.6V292.1M1122.5 273.7V284.2M1123.5 272.1V285.5M1123.5 263.6V281.3M1124.5 263.8V277.1M1124.5 262.9V275.5M1125.5 248.9V265.2M1125.5 239.1V250.9M1126.5 239.9V249.9M1127.5 243.1V252.1M1127.5 243.9V248.7M1128.5 212.9V247.3M1128.5 212.2V216.3M1129.5 184.5V219.5M1129.5 184.7V206.3M1130.5 195.4V205.9M1131.5 195.4V198.0M1131.5 194.5V198.7M1132.5 194.8V210.3M1132.5 204.3V240.7M1133.5 220.9V238.9M1133.5 213.5V221.6M1134.5 197.9V215.0M1135.5 189.2V200.7M1135.5 183.6V192.5M1136.5 173.1V188.2M1136.5 174.9V180.3M1137.5 161.8V177.2M1137.5 154.8V164.1M1081.5 159.3V194.5M1084.5 298.6V302.0M1093.5 470.2V494.9M1100.5 371.5V374.3M1106.5 443.2V448.6M1112.5 356.0V357.3M1114.5 381.5V386.9M1131.5 174.7V195.0M1132.5 240.2V244.2M1137.5 151.6V155.3M1140.5 66.6V72.5M1141.5 60.6V70.0M1141.5 61.0V81.7M1142.5 71.7V93.4M1142.5 90.3V116.8M1143.5 111.9V126.7M1143.5 126.2V185.3M1144.5 180.1V225.7M1145.5 217.0V227.3M1145.5 216.4V250.0M1146.5 246.0V261.4M1146.5 229.9V260.0M1147.5 230.7V256.2M1147.5 248.2V257.6M1148.5 229.6V252.5M1149.5 222.9V236.7M1149.5 224.0V248.9M1150.5 225.2V246.9M1150.5 213.8V230.5M1151.5 210.6V219.0M1151.5 209.9V229.0M1152.5 226.1V249.2M1153.5 242.1V247.6M1153.5 240.2V247.6M1154.5 229.7V244.3M1154.5 229.9V242.1M1155.5 211.7V240.0M1155.5 214.8V223.4M1156.5 203.7V227.2M1157.5 204.5V208.5M1157.5 207.2V212.0M1158.5 206.9V213.8M1158.5 199.2V210.5M1159.5 199.4V230.6M1159.5 229.0V240.1M1160.5 228.0V238.1M1161.5 217.6V231.6M1161.5 204.2V220.9M1162.5 202.6V207.7M1162.5 201.5V214.2M1163.5 196.9V212.8M1163.5 194.5V200.6M1164.5 195.3V210.8M1165.5 207.1V217.2M1165.5 200.6V215.9M1166.5 198.5V204.7M1166.5 198.9V207.5M1167.5 203.8V212.2M1167.5 196.9V211.6M1168.5 199.0V211.3M1169.5 208.1V223.2M1169.5 220.4V223.9M1170.5 221.6V227.6M1170.5 222.4V228.5M1171.5 215.6V231.6M1171.5 217.1V239.1M1172.5 233.8V240.6M1173.5 236.1V244.7M1173.5 237.5V244.2M1174.5 239.8V247.0M1174.5 245.3V255.7M1175.5 249.6V264.6M1175.5 257.0V261.8M1176.5 255.0V262.5M1177.5 254.6V259.0M1177.5 253.1V257.6M1178.5 254.5V273.0M1178.5 252.5V274.0M1179.5 250.2V276.8M1179.5 256.1V276.3M1180.5 245.2V261.2M1181.5 236.6V253.3M1181.5 236.8V242.6M1182.5 238.3V244.6M1182.5 239.9V264.8M1183.5 253.2V262.6M1183.5 252.5V255.7M1184.5 253.6V266.6M1185.5 264.5V283.7M1185.5 281.8V294.6M1186.5 294.0V345.7M1186.5 343.3V369.8M1187.5 364.0V384.9M1187.5 380.8V412.9M1188.5 397.6V415.8M1189.5 398.5V406.0M1189.5 404.4V410.4M1190.5 407.8V435.7M1190.5 427.3V435.3M1191.5 427.2V434.0M1191.5 429.5V445.6M1192.5 441.9V452.7M1193.5 446.7V453.5M1193.5 446.9V464.0M1194.5 458.0V469.5M1194.5 455.6V467.9M1195.5 452.5V460.5M1140.5 20.2V61.1M1140.5 72.0V111.7M1145.5 249.5V267.3M1151.5 201.7V211.1M1152.5 248.7V251.9M1157.5 186.3V207.4M1159.5 239.6V244.2M1163.5 194.0V195.0M1165.5 216.7V221.0M1167.5 194.0V197.4M1179.5 276.3V278.9M1182.5 264.3V267.3M1193.5 463.5V471.8"/>
<path stroke="#1f8a2c" d="M0.5 779.7V780.5"/>
<path stroke="#c81818" d="M0.5 779.7V780.5"/>
<path stroke="#1f8a2c" d="M1.5 766.4V780.2M1.5 760.4V766.4M2.5 756.7V760.4"/>
<path stroke="#c81818" d="M2.5 756.7V761.7"/>
<path stroke="#1f8a2c" d="M3.5 739.3V761.7"/>
<path stroke="#c81818" d="M4.5 739.3V752.7M4.5 752.7V754.9"/>
<path stroke="#1f8a2c" d="M5.5 749.2V754.9M5.5 744.8V749.2"/>
<path stroke="#c81818" d="M6.5 744.8V749.6M6.5 749.6V750.4M7.5 750.2V754.5M8.5 754.5V760.6M8.5 760.6V763.7M9.5 763.7V767.6M9.5 767.6V780.2M10.5 780.2V781.9"/>
<path stroke="#1f8a2c" d="M10.5 780.9V781.9"/>
<path stroke="#c81818" d="M11.5 780.9V787.9M12.5 787.9V793.9M12.5 793.9V815.2"/>
<path stroke="#1f8a2c" d="M13.5 808.6V815.2"/>
<path stroke="#c81818" d="M13.5 808.6V818.4M14.5 818.4V820.8"/>
<path stroke="#1f8a2c" d="M14.5 813.4V820.8"/>
<path stroke="#c81818" d="M15.5 813.4V822.1M16.5 822.1V827.6"/>
<path stroke="#1f8a2c" d="M16.5 823.9V827.6"/>
<path stroke="#c81818" d="M17.5 823.9V831.9"/>
<path stroke="#1f8a2c" d="M17.5 817.7V831.9"/>
<path stroke="#c81818" d="M18.5 817.7V829.1"/>
<path stroke="#1f8a2c" d="M19.5 825.9V829.1M19.5 810.3V825.9"/>
<path stroke="#c81818" d="M20.5 810.3V815.7"/>
<path stroke="#1f8a2c" d="M20.5 799.5V815.7M21.5 794.1V799.5"/>
<path stroke="#c81818" d="M21.5 794.1V809.6"/>
<path stroke="#1f8a2c" d="M22.5 787.4V809.6"/>
<path stroke="#c81818" d="M23.5 787.4V798.7M23.5 798.7V808.1M24.5 808.1V809.5"/>
<path stroke="#1f8a2c" d="M24.5 801.0V809.5M25.5 789.3V801.0M25.5 772.0V789.3M26.5 766.6V772.0"/>
<path stroke="#c81818" d="M27.5 766.6V774.7"/>
<path stroke="#1f8a2c" d="M27.5 760.8V774.7M28.5 759.5V760.8M28.5 753.2V759.5M29.5 746.2V753.2"/>
<path stroke="#c81818" d="M29.5 746.2V750.8"/>
<path stroke="#1f8a2c" d="M30.5 742.3V750.8M31.5 739.9V742.3M31.5 739.3V740.1"/>
<path stroke="#c81818" d="M32.5 739.3V749.3"/>
<path stroke="#1f8a2c" d="M32.5 746.5V749.3M33.5 745.1V746.5"/>
<path stroke="#c81818" d="M35.5 687.1V689.0M36.5 689.0V696.7M36.5 696.7V704.0M37.5 704.0V731.6M37.5 731.6V743.0"/>
<path stroke="#1f8a2c" d="M38.5 728.8V743.0"/>
<path stroke="#c81818" d="M39.5 728.8V735.1M39.5 735.1V755.8"/>
<path stroke="#1f8a2c" d="M40.5 750.3V755.8"/>
<path stroke="#c81818" d="M40.5 750.3V771.6M41.5 771.6V783.7"/>
<path stroke="#1f8a2c" d="M41.5 754.2V783.7"/>
<path stroke="#c81818" d="M42.5 754.2V755.7M43.5 755.7V770.8M43.5 770.8V774.3"/>
<path stroke="#1f8a2c" d="M44.5 747.5V774.3M44.5 738.3V747.5M45.5 726.9V738.3"/>
<path stroke="#c81818" d="M45.5 726.9V728.5"/>
<path stroke="#1f8a2c" d="M46.5 718.0V728.5"/>
<path stroke="#c81818" d="M47.5 718.0V718.8"/>
<path stroke="#1f8a2c" d="M47.5 718.2V719.0"/>
<path stroke="#c81818" d="M48.5 718.2V720.1"/>
<path stroke="#1f8a2c" d="M48.5 696.4V720.1M49.5 694.2V696.4M49.5 685.2V694.2"/>
<path stroke="#c81818" d="M50.5 685.2V686.7"/>
<path stroke="#1f8a2c" d="M51.5 683.7V686.7"/>
<path stroke="#c81818" d="M51.5 683.7V685.3"/>
<path stroke="#1f8a2c" d="M52.5 683.5V685.3M52.5 680.8V683.5M53.5 664.9V680.8"/>
<path stroke="#c81818" d="M53.5 664.9V669.4"/>
<path stroke="#1f8a2c" d="M54.5 668.3V669.4M55.5 668.2V669.0M55.5 661.0V668.2M56.5 659.3V661.0"/>
<path stroke="#c81818" d="M56.5 659.3V660.8M57.5 660.8V662.8M57.5 662.8V664.8"/>
<path stroke="#1f8a2c" d="M58.5 640.7V664.8"/>
<path stroke="#c81818" d="M59.5 640.7V647.6"/>
<path stroke="#1f8a2c" d="M59.5 642.9V647.6"/>
<path stroke="#c81818" d="M60.5 642.9V644.6M60.5 644.6V652.1"/>
<path stroke="#1f8a2c" d="M61.5 648.7V652.1"/>
<path stroke="#c81818" d="M61.5 648.7V660.8"/>
<path stroke="#1f8a2c" d="M62.5 649.6V660.8"/>
<path stroke="#c81818" d="M63.5 649.6V654.1M63.5 654.1V663.0"/>
<path stroke="#1f8a2c" d="M64.5 644.6V663.0"/>
<path stroke="#c81818" d="M64.5 644.6V660.7"/>
<path stroke="#1f8a2c" d="M65.5 657.1V660.7M65.5 655.5V657.1"/>
<path stroke="#c81818" d="M66.5 655.5V661.2"/>
<path stroke="#1f8a2c" d="M67.5 656.9V661.2M67.5 647.3V656.9M68.5 643.7V647.3"/>
<path stroke="#c81818" d="M68.5 643.7V657.0"/>
<path stroke="#1f8a2c" d="M69.5 641.4V657.0M69.5 634.2V641.4M70.5 628.4V634.2"/>
<path stroke="#c81818" d="M71.5 628.4V632.8"/>
<path stroke="#1f8a2c" d="M71.5 623.7V632.8M72.5 614.0V623.7"/>
<path stroke="#c81818" d="M72.5 614.0V620.6M73.5 620.6V626.2M73.5 626.2V631.2"/>
<path stroke="#1f8a2c" d="M74.5 626.6V631.2M75.5 612.7V626.6"/>
<path stroke="#c81818" d="M75.5 612.7V632.9"/>
<path stroke="#1f8a2c" d="M76.5 610.7V632.9M76.5 600.3V610.7"/>
<path stroke="#c81818" d="M77.5 600.3V611.9M77.5 611.9V612.7M78.5 612.5V613.3"/>
<path stroke="#1f8a2c" d="M79.5 585.1V612.9"/>
<path stroke="#c81818" d="M79.5 585.1V587.7M80.5 587.7V600.1M80.5 600.1V604.5"/>
<path stroke="#1f8a2c" d="M81.5 603.4V604.5M81.5 602.1V603.4M82.5 593.4V602.1M83.5 592.2V593.4M83.5 586.4V592.2M84.5 574.8V586.4M84.5 565.2V574.8M85.5 561.0V565.2"/>
<path stroke="#c81818" d="M85.5 561.0V566.0"/>
<path stroke="#1f8a2c" d="M86.5 561.2V566.0"/>
<path stroke="#c81818" d="M87.5 561.2V565.4"/>
<path stroke="#1f8a2c" d="M87.5 561.2V565.4"/>
<path stroke="#c81818" d="M88.5 561.2V566.9"/>
<path stroke="#1f8a2c" d="M88.5 565.7V566.9M89.5 557.2V565.7"/>
<path stroke="#c81818" d="M89.5 557.2V565.0M90.5 565.0V577.7"/>
<path stroke="#1f8a2c" d="M90.5 561.8V577.7"/>
<path stroke="#c81818" d="M91.5 561.8V565.3M92.5 565.3V593.1M92.5 593.1V598.4M93.5 598.4V604.4"/>
<path stroke="#1f8a2c" d="M94.5 598.5V599.4"/>
<path stroke="#c81818" d="M95.5 598.5V611.9"/>
<path stroke="#1f8a2c" d="M95.5 610.7V611.9M96.5 585.3V610.7"/>
<path stroke="#c81818" d="M97.5 585.3V595.1"/>
<path stroke="#1f8a2c" d="M97.5 585.0V595.1"/>
<path stroke="#c81818" d="M98.5 585.0V588.2"/>
<path stroke="#1f8a2c" d="M98.5 576.9V588.2"/>
<path stroke="#c81818" d="M99.5 576.9V605.6M99.5 605.6V611.8M100.5 611.8V612.6"/>
<path stroke="#1f8a2c" d="M101.5 565.1V612.5"/>
<path stroke="#c81818" d="M101.5 565.1V581.7M102.5 581.7V601.2"/>
<path stroke="#1f8a2c" d="M102.5 592.9V601.2"/>
<path stroke="#c81818" d="M103.5 592.9V610.5"/>
<path stroke="#1f8a2c" d="M103.5 591.1V610.5"/>
<path stroke="#c81818" d="M104.5 591.1V600.6"/>
<path stroke="#1f8a2c" d="M105.5 585.1V600.6M105.5 575.0V585.1"/>
<path stroke="#c81818" d="M106.5 575.0V587.6"/>
<path stroke="#1f8a2c" d="M106.5 581.3V587.6"/>
<path stroke="#c81818" d="M107.5 581.3V600.4"/>
<path stroke="#1f8a2c" d="M107.5 585.8V600.4"/>
<path stroke="#c81818" d="M108.5 585.8V601.8"/>
<path stroke="#1f8a2c" d="M109.5 587.6V601.8"/>
<path stroke="#c81818" d="M109.5 587.6V590.1M110.5 590.1V592.0M110.5 592.0V593.6"/>
<path stroke="#1f8a2c" d="M111.5 590.2V593.6M111.5 568.3V590.2M112.5 562.0V568.3"/>
<path stroke="#c81818" d="M113.5 562.0V572.2"/>
<path stroke="#1f8a2c" d="M113.5 565.6V572.2"/>
<path stroke="#c81818" d="M114.5 565.6V571.5"/>
<path stroke="#1f8a2c" d="M114.5 563.3V571.5M115.5 557.3V563.3"/>
<path stroke="#c81818" d="M115.5 557.3V565.8M116.5 565.8V578.9M117.5 578.9V593.1M117.5 593.1V598.6"/>
<path stroke="#1f8a2c" d="M118.5 591.4V598.6M118.5 590.0V591.4M119.5 583.9V590.0M119.5 573.5V583.9M120.5 572.5V573.5"/>
<path stroke="#c81818" d="M121.5 572.5V583.7M121.5 583.7V592.2"/>
<path stroke="#1f8a2c" d="M122.5 575.9V592.2"/>
<path stroke="#c81818" d="M122.5 575.9V585.4M123.5 585.4V596.2"/>
<path stroke="#1f8a2c" d="M123.5 595.4V596.2M124.5 582.0V595.4"/>
<path stroke="#c81818" d="M125.5 582.0V603.1"/>
<path stroke="#1f8a2c" d="M125.5 593.8V603.1"/>
<path stroke="#c81818" d="M126.5 593.8V601.3M126.5 601.3V614.4"/>
<path stroke="#1f8a2c" d="M127.5 607.7V614.4M127.5 600.1V607.7"/>
<path stroke="#c81818" d="M128.5 600.1V610.7"/>
<path stroke="#1f8a2c" d="M129.5 607.7V610.7"/>
<path stroke="#c81818" d="M129.5 607.7V614.2"/>
<path stroke="#1f8a2c" d="M130.5 613.7V614.5M130.5 610.3V613.7"/>
<path stroke="#c81818" d="M131.5 610.3V626.6"/>
<path stroke="#1f8a2c" d="M131.5 608.8V626.6"/>
<path stroke="#c81818" d="M132.5 608.8V609.6M133.5 609.3V617.2"/>
<path stroke="#1f8a2c" d="M133.5 613.5V617.2"/>
<path stroke="#c81818" d="M134.5 613.5V615.4M134.5 615.4V629.7"/>
<path stroke="#1f8a2c" d="M135.5 629.7V630.5M135.5 629.0V629.8M136.5 623.7V629.0"/>
<path stroke="#c81818" d="M137.5 623.7V632.7"/>
<path stroke="#1f8a2c" d="M137.5 628.2V632.7M138.5 623.2V628.2"/>
<path stroke="#c81818" d="M138.5 623.2V629.5M139.5 629.5V634.5"/>
<path stroke="#1f8a2c" d="M139.5 630.7V634.5"/>
<path stroke="#c81818" d="M140.5 630.7V632.4"/>
<path stroke="#1f8a2c" d="M141.5 627.4V632.4"/>
<path stroke="#c81818" d="M141.5 627.4V628.2M142.5 628.0V632.3"/>
<path stroke="#1f8a2c" d="M142.5 632.1V632.9M143.5 631.2V632.1"/>
<path stroke="#c81818" d="M143.5 631.2V638.8"/>
<path stroke="#1f8a2c" d="M144.5 625.3V638.8"/>
<path stroke="#c81818" d="M145.5 625.3V648.5"/>
<path stroke="#1f8a2c" d="M145.5 647.5V648.5M146.5 640.2V647.5"/>
<path stroke="#c81818" d="M146.5 640.2V642.2M147.5 642.2V648.5"/>
<path stroke="#1f8a2c" d="M147.5 643.3V648.5M148.5 634.6V643.3M149.5 629.9V634.6M149.5 625.8V629.9"/>
<path stroke="#c81818" d="M150.5 625.8V635.3M150.5 635.3V643.0M151.5 643.0V662.5"/>
<path stroke="#1f8a2c" d="M151.5 658.2V662.5"/>
<path stroke="#c81818" d="M152.5 658.2V666.7M153.5 666.7V681.6M153.5 681.6V683.7M154.5 683.7V703.1"/>
<path stroke="#1f8a2c" d="M154.5 693.4V703.1"/>
<path stroke="#c81818" d="M155.5 693.4V694.2"/>
<path stroke="#1f8a2c" d="M155.5 690.4V694.1"/>
<path stroke="#c81818" d="M159.5 551.4V553.1"/>
<path stroke="#1f8a2c" d="M159.5 552.9V553.7"/>
<path stroke="#c81818" d="M160.5 552.9V565.4M160.5 565.4V607.8"/>
<path stroke="#1f8a2c" d="M161.5 588.8V607.8M161.5 588.2V589.0"/>
<path stroke="#c81818" d="M162.5 588.2V593.5M163.5 593.5V617.8"/>
<path stroke="#1f8a2c" d="M163.5 608.1V617.8M164.5 604.9V608.1"/>
<path stroke="#c81818" d="M164.5 604.9V619.0"/>
<path stroke="#1f8a2c" d="M165.5 571.0V619.0"/>
<path stroke="#c81818" d="M165.5 571.0V574.6"/>
<path stroke="#1f8a2c" d="M166.5 571.2V574.6M167.5 557.0V571.2M167.5 553.9V557.0M168.5 542.8V553.9M168.5 538.9V542.8M169.5 524.2V538.9"/>
<path stroke="#c81818" d="M170.5 524.2V532.1"/>
<path stroke="#1f8a2c" d="M170.5 522.8V532.1"/>
<path stroke="#c81818" d="M171.5 522.8V530.5M171.5 530.5V534.7"/>
<path stroke="#1f8a2c" d="M172.5 528.0V534.7M172.5 509.9V528.0M173.5 509.1V509.9M174.5 501.3V509.1M174.5 488.3V501.3"/>
<path stroke="#c81818" d="M175.5 488.3V496.3"/>
<path stroke="#1f8a2c" d="M175.5 470.0V496.3"/>
<path stroke="#c81818" d="M176.5 470.0V483.8"/>
<path stroke="#1f8a2c" d="M176.5 482.1V483.8M177.5 471.2V482.1"/>
<path stroke="#c81818" d="M178.5 471.2V476.5"/>
<path stroke="#1f8a2c" d="M178.5 474.7V476.5M179.5 465.0V474.7"/>
<path stroke="#c81818" d="M179.5 465.0V469.0M180.5 469.0V472.5"/>
<path stroke="#1f8a2c" d="M180.5 469.3V472.5M181.5 452.0V469.3"/>
<path stroke="#c81818" d="M182.5 452.0V458.1"/>
<path stroke="#1f8a2c" d="M182.5 453.3V458.1M183.5 439.7V453.3"/>
<path stroke="#c81818" d="M183.5 439.7V452.9"/>
<path stroke="#1f8a2c" d="M184.5 443.4V452.9"/>
<path stroke="#c81818" d="M184.5 443.4V449.4M185.5 449.4V458.5"/>
<path stroke="#1f8a2c" d="M186.5 454.8V458.5M186.5 452.4V454.8M187.5 451.0V452.4"/>
<path stroke="#c81818" d="M187.5 451.0V455.2M188.5 455.2V456.2"/>
<path stroke="#1f8a2c" d="M188.5 452.1V456.2M189.5 450.3V452.1"/>
<path stroke="#c81818" d="M190.5 450.3V457.3M190.5 457.3V461.5"/>
<path stroke="#1f8a2c" d="M191.5 456.9V461.5M191.5 452.0V456.9"/>
<path stroke="#c81818" d="M192.5 452.0V453.9M192.5 453.9V458.9"/>
<path stroke="#1f8a2c" d="M193.5 458.5V459.3"/>
<path stroke="#c81818" d="M194.5 458.5V459.6M194.5 459.6V463.6M195.5 463.6V472.0"/>
<path stroke="#1f8a2c" d="M195.5 457.8V472.0"/>
<path stroke="#c81818" d="M196.5 457.8V480.0"/>
<path stroke="#1f8a2c" d="M196.5 477.4V480.0"/>
<path stroke="#c81818" d="M197.5 477.4V481.6M198.5 481.6V482.4M198.5 481.6V484.6"/>
<path stroke="#1f8a2c" d="M199.5 476.6V484.6"/>
<path stroke="#c81818" d="M199.5 476.6V484.2M200.5 484.2V488.0M200.5 488.0V504.9"/>
<path stroke="#1f8a2c" d="M201.5 484.0V504.9"/>
<path stroke="#c81818" d="M202.5 484.0V509.0"/>
<path stroke="#1f8a2c" d="M202.5 500.8V509.0M203.5 497.1V500.8"/>
<path stroke="#c81818" d="M203.5 497.1V525.3"/>
<path stroke="#1f8a2c" d="M204.5 521.1V525.3M204.5 520.5V521.3"/>
<path stroke="#c81818" d="M205.5 520.5V525.9M206.5 525.9V539.2M206.5 539.2V542.0M207.5 542.0V556.0M207.5 556.0V580.0"/>
<path stroke="#1f8a2c" d="M208.5 571.8V580.0"/>
<path stroke="#c81818" d="M208.5 571.8V585.5"/>
<path stroke="#1f8a2c" d="M209.5 584.1V585.5"/>
<path stroke="#c81818" d="M210.5 584.1V593.5M210.5 593.5V600.1"/>
<path stroke="#1f8a2c" d="M211.5 595.3V600.1"/>
<path stroke="#c81818" d="M211.5 595.3V613.8M212.5 613.8V620.6"/>
<path stroke="#1f8a2c" d="M212.5 611.6V620.6"/>
<path stroke="#c81818" d="M213.5 611.6V628.6"/>
<path stroke="#1f8a2c" d="M214.5 622.0V628.6"/>
<path stroke="#c81818" d="M214.5 622.0V634.8M217.5 618.7V620.6"/>
<path stroke="#1f8a2c" d="M217.5 611.2V620.6M218.5 607.0V611.2"/>
<path stroke="#c81818" d="M218.5 607.0V608.7"/>
<path stroke="#1f8a2c" d="M219.5 607.6V608.7"/>
<path stroke="#c81818" d="M220.5 607.6V627.5M220.5 627.5V643.3M221.5 643.3V651.7"/>
<path stroke="#1f8a2c" d="M221.5 648.4V651.7"/>
<path stroke="#c81818" d="M222.5 648.4V660.7M222.5 660.7V674.4M223.5 674.4V675.4"/>
<path stroke="#1f8a2c" d="M224.5 663.3V675.4"/>
<path stroke="#c81818" d="M224.5 663.3V668.0M225.5 668.0V680.9M225.5 680.9V690.4M226.5 690.4V693.3M226.5 693.3V707.6M227.5 707.6V713.2M228.5 713.2V719.2"/>
<path stroke="#1f8a2c" d="M228.5 700.6V719.2"/>
<path stroke="#c81818" d="M229.5 700.6V727.3"/>
<path stroke="#1f8a2c" d="M229.5 714.2V727.3M230.5 710.9V714.2M230.5 704.7V710.9"/>
<path stroke="#c81818" d="M231.5 704.7V706.5"/>
<path stroke="#1f8a2c" d="M232.5 696.6V706.5"/>
<path stroke="#c81818" d="M232.5 696.6V717.6"/>
<path stroke="#1f8a2c" d="M233.5 700.2V717.6"/>
<path stroke="#c81818" d="M233.5 700.2V702.6"/>
<path stroke="#1f8a2c" d="M234.5 701.7V702.6"/>
<path stroke="#c81818" d="M234.5 701.7V731.0"/>
<path stroke="#1f8a2c" d="M235.5 723.1V731.0"/>
<path stroke="#c81818" d="M236.5 723.1V738.7"/>
<path stroke="#1f8a2c" d="M236.5 720.4V738.7"/>
<path stroke="#c81818" d="M237.5 720.4V729.6M237.5 729.6V733.0"/>
<path stroke="#1f8a2c" d="M238.5 724.5V733.0"/>
<path stroke="#c81818" d="M238.5 724.5V725.3"/>
<path stroke="#1f8a2c" d="M239.5 711.7V725.0M240.5 710.5V711.7M240.5 700.7V710.5M241.5 693.9V700.7"/>
<path stroke="#c81818" d="M241.5 693.9V699.5M242.5 699.5V703.3"/>
<path stroke="#1f8a2c" d="M242.5 696.8V703.3M243.5 689.0V696.8M244.5 687.1V689.0"/>
<path stroke="#c81818" d="M244.5 687.1V687.9M245.5 687.8V693.0M245.5 693.0V697.5"/>
<path stroke="#1f8a2c" d="M246.5 689.9V697.5M246.5 680.5V689.9"/>
<path stroke="#c81818" d="M247.5 680.5V681.3M248.5 681.0V694.8M248.5 694.8V700.8M249.5 700.8V710.7M249.5 710.7V713.6M250.5 713.6V716.5"/>
<path stroke="#1f8a2c" d="M250.5 715.0V716.5"/>
<path stroke="#c81818" d="M251.5 715.0V728.0M252.5 728.0V732.5M252.5 732.5V746.0"/>
<path stroke="#1f8a2c" d="M253.5 734.9V746.0"/>
<path stroke="#c81818" d="M253.5 734.9V759.4M254.5 759.4V765.7M254.5 765.7V774.1"/>
<path stroke="#1f8a2c" d="M255.5 772.0V774.1"/>
<path stroke="#c81818" d="M256.5 772.0V774.6"/>
<path stroke="#1f8a2c" d="M256.5 768.8V774.6"/>
<path stroke="#c81818" d="M257.5 768.8V769.6"/>
<path stroke="#1f8a2c" d="M257.5 759.1V769.2M258.5 755.7V759.1"/>
<path stroke="#c81818" d="M258.5 755.7V759.9"/>
<path stroke="#1f8a2c" d="M259.5 745.8V759.9M260.5 743.7V745.8M260.5 739.3V743.7M261.5 730.5V739.3M261.5 725.4V730.5"/>
<path stroke="#c81818" d="M262.5 725.4V747.8"/>
<path stroke="#1f8a2c" d="M262.5 730.1V747.8"/>
<path stroke="#c81818" d="M263.5 730.1V737.9M264.5 737.9V749.4M264.5 749.4V750.2M265.5 750.2V764.1"/>
<path stroke="#1f8a2c" d="M265.5 743.0V764.1"/>
<path stroke="#c81818" d="M266.5 743.0V751.6M267.5 751.6V753.6M267.5 753.6V766.8M268.5 766.8V780.3M268.5 780.3V784.3M269.5 784.3V788.3"/>
<path stroke="#1f8a2c" d="M269.5 778.2V788.3"/>
<path stroke="#c81818" d="M270.5 778.2V793.7"/>
<path stroke="#1f8a2c" d="M271.5 778.3V793.7"/>
<path stroke="#c81818" d="M271.5 778.3V787.3"/>
<path stroke="#1f8a2c" d="M272.5 782.2V787.3M272.5 768.6V782.2M273.5 762.3V768.6"/>
<path stroke="#c81818" d="M273.5 762.3V766.7M274.5 766.7V767.5M275.5 766.8V767.6"/>
<path stroke="#1f8a2c" d="M275.5 755.4V767.5M277.5 736.7V738.5"/>
<path stroke="#c81818" d="M277.5 736.7V743.0"/>
<path stroke="#1f8a2c" d="M278.5 713.0V743.0M279.5 708.6V713.0"/>
<path stroke="#c81818" d="M279.5 708.6V717.9M280.5 717.9V720.8M280.5 720.8V726.5"/>
<path stroke="#1f8a2c" d="M281.5 712.8V726.5M281.5 686.9V712.8M282.5 679.5V686.9"/>
<path stroke="#c81818" d="M283.5 679.5V689.8"/>
<path stroke="#1f8a2c" d="M283.5 671.9V689.8M284.5 670.1V671.9"/>
<path stroke="#c81818" d="M284.5 670.1V675.2M285.5 675.2V688.5M285.5 688.5V708.1M286.5 708.1V714.4"/>
<path stroke="#1f8a2c" d="M287.5 711.0V714.4M287.5 691.6V711.0M288.5 688.0V691.6"/>
<path stroke="#c81818" d="M288.5 688.0V689.0M289.5 689.0V702.4M290.5 702.4V703.2M290.5 702.6V705.5"/>
<path stroke="#1f8a2c" d="M291.5 700.5V705.5"/>
<path stroke="#c81818" d="M291.5 700.5V708.6M292.5 708.6V709.4"/>
<path stroke="#1f8a2c" d="M292.5 698.5V709.1"/>
<path stroke="#c81818" d="M293.5 698.5V700.2"/>
<path stroke="#1f8a2c" d="M294.5 679.3V700.2M294.5 667.1V679.3"/>
<path stroke="#c81818" d="M295.5 667.1V690.7"/>
<path stroke="#1f8a2c" d="M295.5 690.2V691.0M296.5 678.6V690.2M296.5 677.1V678.6"/>
<path stroke="#c81818" d="M297.5 677.1V677.9"/>
<path stroke="#1f8a2c" d="M298.5 671.1V677.3"/>
<path stroke="#c81818" d="M298.5 671.1V675.8M299.5 675.8V679.5M299.5 679.5V687.5"/>
<path stroke="#1f8a2c" d="M300.5 686.9V687.7"/>
<path stroke="#c81818" d="M300.5 686.9V694.7"/>
<path stroke="#1f8a2c" d="M301.5 693.2V694.7M302.5 677.3V693.2"/>
<path stroke="#c81818" d="M302.5 677.3V681.6"/>
<path stroke="#1f8a2c" d="M303.5 674.0V681.6"/>
<path stroke="#c81818" d="M303.5 674.0V683.0"/>
<path stroke="#1f8a2c" d="M304.5 673.2V683.0"/>
<path stroke="#c81818" d="M304.5 673.2V674.0"/>
<path stroke="#1f8a2c" d="M305.5 670.3V674.0"/>
<path stroke="#c81818" d="M306.5 670.3V673.7"/>
<path stroke="#1f8a2c" d="M306.5 666.7V673.7"/>
<path stroke="#c81818" d="M307.5 666.7V676.1"/>
<path stroke="#1f8a2c" d="M307.5 670.5V676.1M308.5 666.0V670.5M308.5 659.5V666.0"/>
<path stroke="#c81818" d="M309.5 659.5V679.7"/>
<path stroke="#1f8a2c" d="M310.5 672.1V679.7"/>
<path stroke="#c81818" d="M310.5 672.1V691.3"/>
<path stroke="#1f8a2c" d="M311.5 681.4V691.3M311.5 680.9V681.7M312.5 677.4V680.9"/>
<path stroke="#c81818" d="M312.5 677.4V687.8M313.5 687.8V690.7"/>
<path stroke="#1f8a2c" d="M314.5 688.0V690.7M314.5 683.9V688.0"/>
<path stroke="#c81818" d="M315.5 683.9V700.0"/>
<path stroke="#1f8a2c" d="M315.5 687.2V700.0"/>
<path stroke="#c81818" d="M316.5 687.2V691.5M316.5 691.5V705.9M317.5 705.9V707.0M318.5 707.0V710.0"/>
<path stroke="#1f8a2c" d="M318.5 707.2V710.0"/>
<path stroke="#c81818" d="M319.5 707.2V723.2"/>
<path stroke="#1f8a2c" d="M319.5 705.9V723.2"/>
<path stroke="#c81818" d="M320.5 705.9V708.2"/>
<path stroke="#1f8a2c" d="M320.5 695.4V708.2M321.5 683.2V695.4"/>
<path stroke="#c81818" d="M322.5 683.2V688.1"/>
<path stroke="#1f8a2c" d="M322.5 664.2V688.1M323.5 648.3V664.2"/>
<path stroke="#c81818" d="M323.5 648.3V667.3"/>
<path stroke="#1f8a2c" d="M324.5 656.2V667.3"/>
<path stroke="#c81818" d="M324.5 656.2V670.9"/>
<path stroke="#1f8a2c" d="M325.5 655.4V670.9"/>
<path stroke="#c81818" d="M326.5 655.4V662.5M326.5 662.5V665.2"/>
<path stroke="#1f8a2c" d="M327.5 664.6V665.4"/>
<path stroke="#c81818" d="M327.5 664.6V669.6"/>
<path stroke="#1f8a2c" d="M328.5 655.0V669.6M328.5 644.0V655.0"/>
<path stroke="#c81818" d="M329.5 644.0V648.1M330.5 648.1V648.9"/>
<path stroke="#1f8a2c" d="M330.5 644.1V648.5M331.5 641.2V644.1"/>
<path stroke="#c81818" d="M331.5 641.2V649.1"/>
<path stroke="#1f8a2c" d="M332.5 649.1V649.9M335.5 459.0V459.8"/>
<path stroke="#c81818" d="M336.5 459.0V459.8M336.5 459.7V475.1M337.5 475.1V484.6M337.5 484.6V490.3M338.5 490.3V513.0M338.5 513.0V513.8M339.5 513.0V522.9M340.5 522.9V534.6M340.5 534.6V537.9"/>
<path stroke="#1f8a2c" d="M341.5 523.6V537.9M341.5 500.3V523.6"/>
<path stroke="#c81818" d="M342.5 500.3V501.7M342.5 501.7V519.5"/>
<path stroke="#1f8a2c" d="M343.5 519.4V520.2"/>
<path stroke="#c81818" d="M344.5 519.4V521.9"/>
<path stroke="#1f8a2c" d="M344.5 506.8V521.9M345.5 504.9V506.8M345.5 504.5V505.3"/>
<path stroke="#c81818" d="M346.5 504.5V516.9"/>
<path stroke="#1f8a2c" d="M346.5 510.7V516.9M347.5 507.0V510.7M348.5 499.5V507.0"/>
<path stroke="#c81818" d="M348.5 499.5V503.3"/>
<path stroke="#1f8a2c" d="M349.5 497.7V503.3M349.5 494.7V497.7"/>
<path stroke="#c81818" d="M350.5 494.7V498.4"/>
<path stroke="#1f8a2c" d="M350.5 489.3V498.4M351.5 486.5V489.3"/>
<path stroke="#c81818" d="M352.5 486.5V494.7M352.5 494.7V498.3M353.5 498.3V504.6"/>
<path stroke="#1f8a2c" d="M353.5 502.5V504.6"/>
<path stroke="#c81818" d="M354.5 502.5V509.9"/>
<path stroke="#1f8a2c" d="M354.5 501.4V509.9"/>
<path stroke="#c81818" d="M355.5 501.4V512.7"/>
<path stroke="#1f8a2c" d="M356.5 501.0V512.7M356.5 496.0V501.0"/>
<path stroke="#c81818" d="M357.5 496.0V511.6"/>
<path stroke="#1f8a2c" d="M357.5 510.7V511.6"/>
<path stroke="#c81818" d="M358.5 510.7V513.3M358.5 513.3V519.8M359.5 519.8V530.1M360.5 530.1V533.4"/>
<path stroke="#1f8a2c" d="M360.5 532.4V533.4"/>
<path stroke="#c81818" d="M361.5 532.4V536.7M361.5 536.7V543.2M362.5 543.2V549.4"/>
<path stroke="#1f8a2c" d="M362.5 543.9V549.4"/>
<path stroke="#c81818" d="M363.5 543.9V556.2M364.5 556.2V559.8"/>
<path stroke="#1f8a2c" d="M364.5 555.1V559.8"/>
<path stroke="#c81818" d="M365.5 555.1V559.0"/>
<path stroke="#1f8a2c" d="M365.5 554.0V559.0"/>
<path stroke="#c81818" d="M366.5 554.0V572.4M366.5 572.4V573.2M367.5 572.9V577.1"/>
<path stroke="#1f8a2c" d="M368.5 570.5V577.1"/>
<path stroke="#c81818" d="M368.5 570.5V584.4"/>
<path stroke="#1f8a2c" d="M369.5 575.5V584.4"/>
<path stroke="#c81818" d="M369.5 575.5V582.2M370.5 582.2V587.8M370.5 587.8V590.1M371.5 590.1V592.5"/>
<path stroke="#1f8a2c" d="M372.5 590.1V592.5"/>
<path stroke="#c81818" d="M372.5 590.1V592.3M373.5 592.3V593.8"/>
<path stroke="#1f8a2c" d="M373.5 579.1V593.8"/>
<path stroke="#c81818" d="M374.5 579.1V581.0M374.5 581.0V583.9"/>
<path stroke="#1f8a2c" d="M375.5 572.4V583.9"/>
<path stroke="#c81818" d="M376.5 572.4V582.3"/>
<path stroke="#1f8a2c" d="M376.5 572.2V582.3"/>
<path stroke="#c81818" d="M377.5 572.2V575.1"/>
<path stroke="#1f8a2c" d="M377.5 568.8V575.1M378.5 564.4V568.8"/>
<path stroke="#c81818" d="M379.5 564.4V570.5"/>
<path stroke="#1f8a2c" d="M379.5 558.8V570.5"/>
<path stroke="#c81818" d="M380.5 558.8V563.1M380.5 563.1V566.4M381.5 566.4V569.5"/>
<path stroke="#1f8a2c" d="M381.5 567.0V569.5M382.5 566.6V567.4M383.5 534.2V566.6"/>
<path stroke="#c81818" d="M383.5 534.2V564.3"/>
<path stroke="#1f8a2c" d="M384.5 538.3V564.3"/>
<path stroke="#c81818" d="M384.5 538.3V550.4M385.5 550.4V553.6M385.5 553.6V566.6M386.5 566.6V568.2"/>
<path stroke="#1f8a2c" d="M387.5 557.5V568.2"/>
<path stroke="#c81818" d="M387.5 557.5V559.4"/>
<path stroke="#1f8a2c" d="M388.5 557.9V559.4M388.5 557.3V558.1M389.5 552.0V557.3"/>
<path stroke="#c81818" d="M389.5 552.0V552.8"/>
<path stroke="#1f8a2c" d="M390.5 544.5V552.8"/>
<path stroke="#c81818" d="M391.5 544.5V555.9M393.5 531.7V532.6"/>
<path stroke="#1f8a2c" d="M394.5 511.2V532.6M394.5 509.1V511.2M395.5 502.4V509.1"/>
<path stroke="#c81818" d="M396.5 502.4V516.1"/>
<path stroke="#1f8a2c" d="M396.5 503.6V516.1M397.5 497.6V503.6M397.5 491.5V497.6"/>
<path stroke="#c81818" d="M398.5 491.5V497.1"/>
<path stroke="#1f8a2c" d="M398.5 494.1V497.1M399.5 473.9V494.1M400.5 456.0V473.9M400.5 451.4V456.0"/>
<path stroke="#c81818" d="M401.5 451.4V457.3M401.5 457.3V472.5M402.5 472.5V476.0"/>
<path stroke="#1f8a2c" d="M402.5 470.4V476.0"/>
<path stroke="#c81818" d="M403.5 470.4V472.9M404.5 472.9V487.4M404.5 487.4V500.0M405.5 500.0V503.7M405.5 503.7V509.8M406.5 509.8V510.6"/>
<path stroke="#1f8a2c" d="M406.5 498.9V509.8"/>
<path stroke="#c81818" d="M407.5 498.9V500.2M408.5 500.2V507.6"/>
<path stroke="#1f8a2c" d="M408.5 500.4V507.6"/>
<path stroke="#c81818" d="M409.5 500.4V502.5"/>
<path stroke="#1f8a2c" d="M409.5 493.3V502.5M410.5 490.2V493.3M410.5 486.2V490.2M411.5 480.8V486.2M411.5 476.5V480.8M412.5 472.6V476.5M413.5 463.9V472.6"/>
<path stroke="#c81818" d="M413.5 463.9V470.9M414.5 470.9V480.1M414.5 480.1V483.5"/>
<path stroke="#1f8a2c" d="M415.5 467.2V483.5"/>
<path stroke="#c81818" d="M415.5 467.2V472.1M416.5 472.1V484.1M417.5 484.1V498.8"/>
<path stroke="#1f8a2c" d="M417.5 490.2V498.8"/>
<path stroke="#c81818" d="M418.5 490.2V494.0M418.5 494.0V505.3"/>
<path stroke="#1f8a2c" d="M419.5 501.9V505.3"/>
<path stroke="#c81818" d="M419.5 501.9V508.4"/>
<path stroke="#1f8a2c" d="M420.5 499.6V508.4"/>
<path stroke="#c81818" d="M421.5 499.6V506.0M421.5 506.0V517.5"/>
<path stroke="#1f8a2c" d="M422.5 513.5V517.5"/>
<path stroke="#c81818" d="M422.5 513.5V528.1"/>
<path stroke="#1f8a2c" d="M423.5 522.8V528.1"/>
<path stroke="#c81818" d="M423.5 522.8V530.4"/>
<path stroke="#1f8a2c" d="M424.5 514.4V530.4M425.5 506.0V514.4"/>
<path stroke="#c81818" d="M425.5 506.0V512.6"/>
<path stroke="#1f8a2c" d="M426.5 503.2V512.6"/>
<path stroke="#c81818" d="M426.5 503.2V507.8M427.5 507.8V508.6M427.5 508.1V511.5"/>
<path stroke="#1f8a2c" d="M428.5 497.8V511.5M429.5 440.4V497.8M429.5 314.5V440.4"/>
<path stroke="#c81818" d="M430.5 314.5V366.6M430.5 366.6V394.1M431.5 394.1V411.0"/>
<path stroke="#1f8a2c" d="M431.5 401.7V411.0"/>
<path stroke="#c81818" d="M432.5 401.7V418.0M433.5 418.0V424.1M433.5 424.1V440.5"/>
<path stroke="#1f8a2c" d="M434.5 434.5V440.5"/>
<path stroke="#c81818" d="M434.5 434.5V452.4"/>
<path stroke="#1f8a2c" d="M435.5 441.7V452.4"/>
<path stroke="#c81818" d="M435.5 441.7V467.5M436.5 467.5V486.5M437.5 486.5V490.1"/>
<path stroke="#1f8a2c" d="M437.5 457.8V490.1"/>
<path stroke="#c81818" d="M438.5 457.8V475.7"/>
<path stroke="#1f8a2c" d="M438.5 474.7V475.7"/>
<path stroke="#c81818" d="M439.5 474.7V487.0"/>
<path stroke="#1f8a2c" d="M439.5 471.8V487.0M440.5 469.9V471.8M441.5 468.2V469.9"/>
<path stroke="#c81818" d="M441.5 468.2V473.5M442.5 473.5V499.8M442.5 499.8V502.6"/>
<path stroke="#1f8a2c" d="M443.5 498.1V502.6M443.5 489.0V498.1"/>
<path stroke="#c81818" d="M444.5 489.0V511.7"/>
<path stroke="#1f8a2c" d="M445.5 504.4V511.7"/>
<path stroke="#c81818" d="M445.5 504.4V512.8M446.5 512.8V528.9"/>
<path stroke="#1f8a2c" d="M446.5 523.6V528.9M447.5 508.5V523.6M447.5 497.9V508.5M448.5 486.0V497.9M449.5 480.3V486.0M452.5 441.9V442.7"/>
<path stroke="#c81818" d="M452.5 441.9V444.4"/>
<path stroke="#1f8a2c" d="M453.5 421.0V444.4"/>
<path stroke="#c81818" d="M454.5 421.0V436.8"/>
<path stroke="#1f8a2c" d="M454.5 419.2V436.8M455.5 412.5V419.2"/>
<path stroke="#c81818" d="M455.5 412.5V425.6M456.5 425.6V432.5"/>
<path stroke="#1f8a2c" d="M456.5 428.9V432.5"/>
<path stroke="#c81818" d="M457.5 428.9V441.1"/>
<path stroke="#1f8a2c" d="M457.5 436.0V441.1M458.5 429.6V436.0"/>
<path stroke="#c81818" d="M459.5 429.6V457.3M459.5 457.3V459.8M460.5 459.8V485.1M460.5 485.1V496.5"/>
<path stroke="#1f8a2c" d="M461.5 484.0V496.5"/>
<path stroke="#c81818" d="M461.5 484.0V488.4M462.5 488.4V489.7M463.5 489.7V497.5"/>
<path stroke="#1f8a2c" d="M463.5 485.7V497.5"/>
<path stroke="#c81818" d="M464.5 485.7V486.5M464.5 486.5V490.7M465.5 490.7V502.5"/>
<path stroke="#1f8a2c" d="M465.5 490.1V502.5M466.5 486.6V490.1M467.5 470.8V486.6M467.5 459.7V470.8"/>
<path stroke="#c81818" d="M468.5 459.7V470.3M468.5 470.3V473.9M469.5 473.9V481.0M469.5 481.0V495.4"/>
<path stroke="#1f8a2c" d="M470.5 492.5V495.4"/>
<path stroke="#c81818" d="M471.5 492.5V514.2"/>
<path stroke="#1f8a2c" d="M471.5 512.9V514.2M472.5 497.5V512.9"/>
<path stroke="#c81818" d="M472.5 497.5V500.1M473.5 500.1V502.8M473.5 502.8V512.9"/>
<path stroke="#1f8a2c" d="M474.5 506.3V512.9"/>
<path stroke="#c81818" d="M475.5 506.3V514.2"/>
<path stroke="#1f8a2c" d="M475.5 503.5V514.2M476.5 499.5V503.5"/>
<path stroke="#c81818" d="M476.5 499.5V501.5"/>
<path stroke="#1f8a2c" d="M477.5 493.6V501.5M477.5 484.8V493.6M478.5 483.2V484.8M479.5 482.4V483.2M479.5 482.3V483.1M480.5 480.3V482.3M480.5 475.8V480.3"/>
<path stroke="#c81818" d="M481.5 475.8V478.6"/>
<path stroke="#1f8a2c" d="M481.5 470.0V478.6M482.5 469.6V470.4"/>
<path stroke="#c81818" d="M483.5 469.6V473.7M483.5 473.7V483.6"/>
<path stroke="#1f8a2c" d="M484.5 473.3V483.6"/>
<path stroke="#c81818" d="M484.5 473.3V475.8M485.5 475.8V476.8"/>
<path stroke="#1f8a2c" d="M485.5 470.1V476.8M486.5 442.3V470.1"/>
<path stroke="#c81818" d="M487.5 442.3V468.8"/>
<path stroke="#1f8a2c" d="M487.5 452.2V468.8"/>
<path stroke="#c81818" d="M488.5 452.2V455.2M488.5 455.2V456.1M489.5 456.1V467.3"/>
<path stroke="#1f8a2c" d="M489.5 452.8V467.3"/>
<path stroke="#c81818" d="M490.5 452.8V464.4"/>
<path stroke="#1f8a2c" d="M491.5 460.6V464.4"/>
<path stroke="#c81818" d="M491.5 460.6V477.2M492.5 477.2V487.3M492.5 487.3V498.4M493.5 498.4V509.1M493.5 509.1V513.7"/>
<path stroke="#1f8a2c" d="M494.5 511.7V513.7M494.5 505.4V511.7"/>
<path stroke="#c81818" d="M495.5 505.4V516.1"/>
<path stroke="#1f8a2c" d="M496.5 515.4V516.2M496.5 510.4V515.4M497.5 507.6V510.4M497.5 502.2V507.6M498.5 501.1V502.2M498.5 473.3V501.1M499.5 466.8V473.3M500.5 456.7V466.8"/>
<path stroke="#c81818" d="M500.5 456.7V465.8M501.5 465.8V469.5"/>
<path stroke="#1f8a2c" d="M501.5 469.0V469.8M502.5 467.0V469.0M502.5 462.9V467.0"/>
<path stroke="#c81818" d="M503.5 462.9V468.1"/>
<path stroke="#1f8a2c" d="M504.5 463.6V468.1M504.5 460.2V463.6M505.5 459.6V460.4M505.5 456.3V459.6M506.5 449.0V456.3"/>
<path stroke="#c81818" d="M506.5 449.0V452.6M507.5 452.6V453.4M511.5 352.3V353.8M511.5 353.8V376.9"/>
<path stroke="#1f8a2c" d="M512.5 364.7V376.9M512.5 353.3V364.7M513.5 340.6V353.3"/>
<path stroke="#c81818" d="M513.5 340.6V354.8"/>
<path stroke="#1f8a2c" d="M514.5 350.2V354.8M515.5 349.2V350.2M515.5 331.7V349.2"/>
<path stroke="#c81818" d="M516.5 331.7V342.6M516.5 342.6V347.3"/>
<path stroke="#1f8a2c" d="M517.5 344.6V347.3M517.5 337.1V344.6"/>
<path stroke="#c81818" d="M518.5 337.1V350.9M519.5 350.9V359.6M519.5 359.6V368.8M520.5 368.8V384.1"/>
<path stroke="#1f8a2c" d="M520.5 380.1V384.1"/>
<path stroke="#c81818" d="M521.5 380.1V387.7"/>
<path stroke="#1f8a2c" d="M521.5 378.4V387.7"/>
<path stroke="#c81818" d="M522.5 378.4V382.3"/>
<path stroke="#1f8a2c" d="M523.5 376.0V382.3"/>
<path stroke="#c81818" d="M523.5 376.0V379.6"/>
<path stroke="#1f8a2c" d="M524.5 370.5V379.6"/>
<path stroke="#c81818" d="M524.5 370.5V372.7"/>
<path stroke="#1f8a2c" d="M525.5 369.6V372.7M525.5 369.3V370.1"/>
<path stroke="#c81818" d="M526.5 369.3V371.1"/>
<path stroke="#1f8a2c" d="M527.5 365.9V371.1M527.5 356.7V365.9"/>
<path stroke="#c81818" d="M528.5 356.7V360.0"/>
<path stroke="#1f8a2c" d="M528.5 344.0V360.0"/>
<path stroke="#c81818" d="M529.5 344.0V354.1"/>
<path stroke="#1f8a2c" d="M529.5 351.1V354.1"/>
<path stroke="#c81818" d="M530.5 351.1V367.4M531.5 367.4V373.3M531.5 373.3V385.9"/>
<path stroke="#1f8a2c" d="M532.5 384.4V385.9M532.5 379.6V384.4M533.5 375.0V379.6"/>
<path stroke="#c81818" d="M533.5 375.0V383.4M534.5 383.4V389.0"/>
<path stroke="#1f8a2c" d="M535.5 386.9V389.0M535.5 369.9V386.9M536.5 363.8V369.9M536.5 351.2V363.8"/>
<path stroke="#c81818" d="M537.5 351.2V354.8"/>
<path stroke="#1f8a2c" d="M537.5 351.0V354.8"/>
<path stroke="#c81818" d="M538.5 351.0V351.8"/>
<path stroke="#1f8a2c" d="M539.5 346.8V351.8"/>
<path stroke="#c81818" d="M539.5 346.8V349.0"/>
<path stroke="#1f8a2c" d="M540.5 345.6V349.0M540.5 342.2V345.6"/>
<path stroke="#c81818" d="M541.5 342.2V343.0"/>
<path stroke="#1f8a2c" d="M541.5 333.1V343.0M542.5 329.2V333.1"/>
<path stroke="#c81818" d="M542.5 329.2V333.3"/>
<path stroke="#1f8a2c" d="M543.5 329.4V333.3"/>
<path stroke="#c81818" d="M544.5 329.4V330.9"/>
<path stroke="#1f8a2c" d="M544.5 321.2V330.9M545.5 313.5V321.2"/>
<path stroke="#c81818" d="M545.5 313.5V317.5M546.5 317.5V318.3M546.5 317.7V320.9M547.5 320.9V334.2M548.5 334.2V337.1M548.5 337.1V343.8"/>
<path stroke="#1f8a2c" d="M549.5 337.9V343.8"/>
<path stroke="#c81818" d="M549.5 337.9V342.8"/>
<path stroke="#1f8a2c" d="M550.5 341.8V342.8M550.5 333.0V341.8M551.5 332.0V333.0M552.5 319.7V332.0M552.5 309.0V319.7M553.5 303.0V309.0M553.5 294.4V303.0M554.5 289.2V294.4M554.5 284.9V289.2M555.5 282.4V284.9"/>
<path stroke="#c81818" d="M556.5 282.4V307.2"/>
<path stroke="#1f8a2c" d="M556.5 305.7V307.2"/>
<path stroke="#c81818" d="M557.5 305.7V316.2M557.5 316.2V328.3M558.5 328.3V333.3M558.5 333.3V335.5M559.5 335.5V340.2"/>
<path stroke="#1f8a2c" d="M560.5 339.9V340.7"/>
<path stroke="#c81818" d="M560.5 339.9V341.9"/>
<path stroke="#1f8a2c" d="M561.5 340.1V341.9M561.5 337.0V340.1M562.5 329.4V337.0M562.5 327.4V329.4M563.5 321.8V327.4"/>
<path stroke="#c81818" d="M564.5 321.8V345.1M564.5 345.1V346.8M565.5 346.8V354.4"/>
<path stroke="#1f8a2c" d="M565.5 353.3V354.4M566.5 343.0V353.3"/>
<path stroke="#c81818" d="M566.5 343.0V345.3M569.5 256.3V257.1"/>
<path stroke="#1f8a2c" d="M569.5 243.0V257.1"/>
<path stroke="#c81818" d="M570.5 243.0V256.7"/>
<path stroke="#1f8a2c" d="M571.5 240.8V256.7M571.5 205.0V240.8M572.5 196.9V205.0M572.5 191.3V196.9"/>
<path stroke="#c81818" d="M573.5 191.3V203.1M573.5 203.1V224.6M574.5 224.6V243.6M575.5 243.6V246.9M575.5 246.9V250.3M576.5 250.3V256.5M576.5 256.5V271.2M577.5 271.2V278.2M578.5 309.3V311.1M579.5 311.1V315.5M579.5 315.5V317.8M580.5 317.8V325.5M581.5 325.5V327.0M581.5 327.0V327.8M582.5 327.3V330.3"/>
<path stroke="#1f8a2c" d="M582.5 326.2V330.3"/>
<path stroke="#c81818" d="M583.5 326.2V336.0M583.5 336.0V341.3"/>
<path stroke="#1f8a2c" d="M584.5 334.9V341.3"/>
<path stroke="#c81818" d="M585.5 334.9V342.4M585.5 342.4V347.6"/>
<path stroke="#1f8a2c" d="M586.5 347.6V348.4M586.5 343.1V347.6"/>
<path stroke="#c81818" d="M587.5 343.1V344.7M587.5 344.7V346.2M588.5 346.2V347.7M589.5 347.7V364.0M589.5 364.0V369.1"/>
<path stroke="#1f8a2c" d="M590.5 361.2V369.1"/>
<path stroke="#c81818" d="M590.5 361.2V368.9M591.5 368.9V376.3"/>
<path stroke="#1f8a2c" d="M591.5 373.9V376.3M592.5 364.3V373.9M593.5 361.2V364.3"/>
<path stroke="#c81818" d="M593.5 361.2V367.9"/>
<path stroke="#1f8a2c" d="M594.5 362.0V367.9"/>
<path stroke="#c81818" d="M594.5 362.0V374.7"/>
<path stroke="#1f8a2c" d="M595.5 366.5V374.7M595.5 362.8V366.5M596.5 356.2V362.8"/>
<path stroke="#c81818" d="M597.5 356.2V367.3"/>
<path stroke="#1f8a2c" d="M597.5 350.4V367.3"/>
<path stroke="#c81818" d="M598.5 350.4V353.2M598.5 353.2V358.8"/>
<path stroke="#1f8a2c" d="M599.5 350.6V358.8"/>
<path stroke="#c81818" d="M599.5 350.6V352.5"/>
<path stroke="#1f8a2c" d="M600.5 348.4V352.5M601.5 345.7V348.4"/>
<path stroke="#c81818" d="M601.5 345.7V349.9"/>
<path stroke="#1f8a2c" d="M602.5 345.3V349.9M602.5 343.7V345.3M603.5 336.4V343.7"/>
<path stroke="#c81818" d="M603.5 336.4V343.7"/>
<path stroke="#1f8a2c" d="M604.5 327.6V343.7"/>
<path stroke="#c81818" d="M605.5 327.6V331.1M605.5 331.1V331.9M606.5 331.7V342.0M606.5 342.0V346.1M607.5 346.1V348.6"/>
<path stroke="#1f8a2c" d="M607.5 348.2V349.0"/>
<path stroke="#c81818" d="M608.5 348.2V349.5M608.5 349.5V353.0"/>
<path stroke="#1f8a2c" d="M609.5 345.4V353.0"/>
<path stroke="#c81818" d="M610.5 345.4V346.4M613.5 278.6V279.4M613.5 279.0V279.8"/>
<path stroke="#1f8a2c" d="M614.5 275.9V279.2"/>
<path stroke="#c81818" d="M614.5 275.9V281.0"/>
<path stroke="#1f8a2c" d="M615.5 280.8V281.6"/>
<path stroke="#c81818" d="M615.5 280.8V281.6M616.5 281.2V298.0M617.5 298.0V301.2M617.5 301.2V323.0M618.5 323.0V327.0"/>
<path stroke="#1f8a2c" d="M618.5 321.8V327.0M619.5 319.2V321.8"/>
<path stroke="#c81818" d="M619.5 319.2V320.0"/>
<path stroke="#1f8a2c" d="M620.5 316.6V319.8M621.5 316.3V317.1"/>
<path stroke="#c81818" d="M621.5 316.3V326.0"/>
<path stroke="#1f8a2c" d="M622.5 322.5V326.0M622.5 317.1V322.5M623.5 304.1V317.1"/>
<path stroke="#c81818" d="M623.5 304.1V310.1"/>
<path stroke="#1f8a2c" d="M624.5 305.9V310.1M625.5 302.8V305.9M625.5 299.2V302.8M626.5 285.9V299.2"/>
<path stroke="#c81818" d="M626.5 285.9V288.8M627.5 288.8V291.0"/>
<path stroke="#1f8a2c" d="M627.5 288.3V291.0M628.5 273.6V288.3M629.5 270.7V273.6M629.5 267.3V270.7M630.5 254.1V267.3M630.5 239.9V254.1"/>
<path stroke="#c81818" d="M631.5 239.9V247.8"/>
<path stroke="#1f8a2c" d="M631.5 240.3V247.8M632.5 237.9V240.3"/>
<path stroke="#c81818" d="M632.5 237.9V241.2M633.5 241.2V242.0M634.5 242.0V242.8"/>
<path stroke="#1f8a2c" d="M634.5 240.8V242.5M635.5 230.1V240.8M635.5 226.7V230.1"/>
<path stroke="#c81818" d="M636.5 226.7V232.8"/>
<path stroke="#1f8a2c" d="M636.5 226.8V232.8M637.5 225.5V226.8M638.5 210.4V225.5M638.5 208.8V210.4M639.5 203.6V208.8"/>
<path stroke="#c81818" d="M639.5 203.6V204.6M640.5 204.6V208.8"/>
<path stroke="#1f8a2c" d="M640.5 200.5V208.8"/>
<path stroke="#c81818" d="M641.5 200.5V208.6"/>
<path stroke="#1f8a2c" d="M642.5 208.5V209.3M642.5 202.6V208.5M643.5 198.5V202.6"/>
<path stroke="#c81818" d="M643.5 198.5V204.3M644.5 204.3V207.2"/>
<path stroke="#1f8a2c" d="M644.5 203.3V207.2M645.5 199.4V203.3"/>
<path stroke="#c81818" d="M646.5 199.4V200.6M646.5 200.6V202.7"/>
<path stroke="#1f8a2c" d="M647.5 199.3V202.7"/>
<path stroke="#c81818" d="M647.5 199.3V200.1"/>
<path stroke="#1f8a2c" d="M648.5 196.4V199.7M648.5 192.5V196.4M649.5 180.0V192.5M650.5 172.5V180.0M650.5 167.8V172.5"/>
<path stroke="#c81818" d="M651.5 167.8V178.8M651.5 178.8V180.5"/>
<path stroke="#1f8a2c" d="M652.5 177.5V180.5"/>
<path stroke="#c81818" d="M652.5 177.5V179.9"/>
<path stroke="#1f8a2c" d="M653.5 179.4V180.2"/>
<path stroke="#c81818" d="M654.5 179.4V189.2M654.5 189.2V192.2"/>
<path stroke="#1f8a2c" d="M655.5 183.8V192.2"/>
<path stroke="#c81818" d="M655.5 183.8V197.1"/>
<path stroke="#1f8a2c" d="M656.5 196.4V197.2M656.5 188.6V196.4M657.5 187.5V188.6"/>
<path stroke="#c81818" d="M658.5 187.5V190.6M658.5 190.6V203.7M659.5 203.7V210.1"/>
<path stroke="#1f8a2c" d="M659.5 209.1V210.1"/>
<path stroke="#c81818" d="M660.5 209.1V212.2M660.5 212.2V213.8M661.5 213.8V217.8M661.5 217.8V238.5M662.5 238.5V239.3"/>
<path stroke="#1f8a2c" d="M663.5 229.0V238.5"/>
<path stroke="#c81818" d="M663.5 229.0V229.8M664.5 229.7V237.1"/>
<path stroke="#1f8a2c" d="M664.5 232.1V237.1"/>
<path stroke="#c81818" d="M665.5 232.1V238.1"/>
<path stroke="#1f8a2c" d="M665.5 231.9V238.1"/>
<path stroke="#c81818" d="M666.5 231.9V237.0M667.5 237.0V240.1M667.5 240.1V241.7M668.5 241.7V245.7"/>
<path stroke="#1f8a2c" d="M668.5 232.8V245.7"/>
<path stroke="#c81818" d="M669.5 232.8V236.8"/>
<path stroke="#1f8a2c" d="M672.5 257.8V258.6"/>
<path stroke="#c81818" d="M672.5 257.8V275.0"/>
<path stroke="#1f8a2c" d="M673.5 272.4V275.0M673.5 268.9V272.4M674.5 260.3V268.9"/>
<path stroke="#c81818" d="M674.5 260.3V276.6"/>
<path stroke="#1f8a2c" d="M675.5 272.9V276.6"/>
<path stroke="#c81818" d="M676.5 272.9V281.2"/>
<path stroke="#1f8a2c" d="M676.5 273.0V281.2"/>
<path stroke="#c81818" d="M677.5 273.0V278.4"/>
<path stroke="#1f8a2c" d="M677.5 274.3V278.4M678.5 258.0V274.3"/>
<path stroke="#c81818" d="M678.5 258.0V258.8"/>
<path stroke="#1f8a2c" d="M679.5 243.9V258.7M680.5 242.0V243.9"/>
<path stroke="#c81818" d="M680.5 242.0V247.7"/>
<path stroke="#1f8a2c" d="M681.5 243.3V247.7"/>
<path stroke="#c81818" d="M681.5 243.3V254.1"/>
<path stroke="#1f8a2c" d="M682.5 249.6V254.1M682.5 247.8V249.6M683.5 239.2V247.8M684.5 231.6V239.2"/>
<path stroke="#c81818" d="M684.5 231.6V237.3M685.5 237.3V244.1M685.5 244.1V244.9M686.5 244.5V263.6M686.5 263.6V264.7"/>
<path stroke="#1f8a2c" d="M687.5 264.1V264.9M688.5 253.0V264.1"/>
<path stroke="#c81818" d="M688.5 253.0V272.5"/>
<path stroke="#1f8a2c" d="M689.5 271.7V272.5"/>
<path stroke="#c81818" d="M689.5 271.7V275.0M690.5 275.0V289.2"/>
<path stroke="#1f8a2c" d="M690.5 282.2V289.2"/>
<path stroke="#c81818" d="M691.5 282.2V287.3"/>
<path stroke="#1f8a2c" d="M691.5 273.1V287.3M692.5 268.6V273.1M693.5 263.1V268.6"/>
<path stroke="#c81818" d="M693.5 263.1V273.1"/>
<path stroke="#1f8a2c" d="M694.5 265.2V273.1M694.5 264.8V265.6"/>
<path stroke="#c81818" d="M695.5 264.8V270.7"/>
<path stroke="#1f8a2c" d="M695.5 262.2V270.7"/>
<path stroke="#c81818" d="M696.5 262.2V267.3"/>
<path stroke="#1f8a2c" d="M697.5 262.6V267.3"/>
<path stroke="#c81818" d="M697.5 262.6V268.3"/>
<path stroke="#1f8a2c" d="M698.5 268.0V268.8M698.5 260.9V268.0"/>
<path stroke="#c81818" d="M699.5 260.9V262.7M699.5 262.7V263.5"/>
<path stroke="#1f8a2c" d="M700.5 257.6V263.0M701.5 251.8V257.6M701.5 251.3V252.1M702.5 250.7V251.5M702.5 250.7V251.5"/>
<path stroke="#c81818" d="M703.5 250.7V256.9"/>
<path stroke="#1f8a2c" d="M703.5 252.8V256.9"/>
<path stroke="#c81818" d="M704.5 252.8V253.6"/>
<path stroke="#1f8a2c" d="M705.5 251.4V253.0"/>
<path stroke="#c81818" d="M705.5 251.4V256.3M706.5 256.3V258.9"/>
<path stroke="#1f8a2c" d="M706.5 250.3V258.9"/>
<path stroke="#c81818" d="M707.5 250.3V251.1"/>
<path stroke="#1f8a2c" d="M707.5 244.9V250.8M708.5 244.2V245.0"/>
<path stroke="#c81818" d="M709.5 244.2V248.8"/>
<path stroke="#1f8a2c" d="M709.5 246.5V248.8M710.5 242.1V246.5"/>
<path stroke="#c81818" d="M710.5 242.1V244.9"/>
<path stroke="#1f8a2c" d="M711.5 244.5V245.3M711.5 236.6V244.5"/>
<path stroke="#c81818" d="M712.5 236.6V238.2M713.5 238.2V240.0"/>
<path stroke="#1f8a2c" d="M713.5 229.3V240.0"/>
<path stroke="#c81818" d="M714.5 229.3V236.5"/>
<path stroke="#1f8a2c" d="M714.5 228.3V236.5M715.5 225.1V228.3"/>
<path stroke="#c81818" d="M715.5 225.1V226.0"/>
<path stroke="#1f8a2c" d="M716.5 223.1V226.0M717.5 220.2V223.1M717.5 218.7V220.2"/>
<path stroke="#c81818" d="M718.5 218.7V227.2"/>
<path stroke="#1f8a2c" d="M718.5 221.3V227.2M719.5 211.0V221.3"/>
<path stroke="#c81818" d="M719.5 211.0V220.5"/>
<path stroke="#1f8a2c" d="M720.5 216.1V220.5M721.5 199.5V216.1"/>
<path stroke="#c81818" d="M721.5 199.5V200.5"/>
<path stroke="#1f8a2c" d="M722.5 192.8V200.5"/>
<path stroke="#c81818" d="M722.5 192.8V194.0M723.5 194.0V195.7"/>
<path stroke="#1f8a2c" d="M723.5 192.5V195.7"/>
<path stroke="#c81818" d="M724.5 192.5V193.3"/>
<path stroke="#1f8a2c" d="M725.5 191.4V193.0M725.5 185.6V191.4"/>
<path stroke="#c81818" d="M726.5 185.6V194.9"/>
<path stroke="#1f8a2c" d="M726.5 192.9V194.9M727.5 184.6V192.9"/>
<path stroke="#c81818" d="M727.5 184.6V192.2M730.5 229.0V229.8M731.5 229.7V247.9M731.5 247.9V279.7M732.5 279.7V282.4M732.5 282.4V286.8M733.5 286.8V323.4"/>
<path stroke="#1f8a2c" d="M734.5 321.8V323.4"/>
<path stroke="#c81818" d="M734.5 321.8V345.5M735.5 345.5V381.8M735.5 381.8V397.7"/>
<path stroke="#1f8a2c" d="M736.5 396.7V397.7M736.5 361.1V396.7"/>
<path stroke="#c81818" d="M737.5 361.1V380.3M738.5 380.3V388.9"/>
<path stroke="#1f8a2c" d="M738.5 368.2V388.9M739.5 362.7V368.2M739.5 359.4V362.7M740.5 356.4V359.4"/>
<path stroke="#c81818" d="M740.5 356.4V366.0M741.5 366.0V369.5"/>
<path stroke="#1f8a2c" d="M742.5 365.1V369.5"/>
<path stroke="#c81818" d="M742.5 365.1V374.3"/>
<path stroke="#1f8a2c" d="M743.5 371.3V374.3"/>
<path stroke="#c81818" d="M743.5 371.3V382.2"/>
<path stroke="#1f8a2c" d="M744.5 365.8V382.2"/>
<path stroke="#c81818" d="M745.5 365.8V369.2M745.5 369.2V377.8"/>
<path stroke="#1f8a2c" d="M746.5 351.2V377.8"/>
<path stroke="#c81818" d="M746.5 351.2V366.0"/>
<path stroke="#1f8a2c" d="M747.5 360.1V366.0"/>
<path stroke="#c81818" d="M747.5 360.1V371.6"/>
<path stroke="#1f8a2c" d="M748.5 355.4V371.6M749.5 351.3V355.4"/>
<path stroke="#c81818" d="M749.5 351.3V359.9M750.5 359.9V362.0M750.5 362.0V376.5M751.5 376.5V399.8"/>
<path stroke="#1f8a2c" d="M751.5 388.2V399.8"/>
<path stroke="#c81818" d="M752.5 388.2V397.3"/>
<path stroke="#1f8a2c" d="M753.5 386.6V397.3"/>
<path stroke="#c81818" d="M753.5 386.6V387.7"/>
<path stroke="#1f8a2c" d="M754.5 385.6V387.7M754.5 375.4V385.6M755.5 372.8V375.4"/>
<path stroke="#c81818" d="M755.5 372.8V383.8M756.5 383.8V384.6"/>
<path stroke="#1f8a2c" d="M757.5 372.7V384.2"/>
<path stroke="#c81818" d="M757.5 372.7V376.2M758.5 376.2V381.1"/>
<path stroke="#1f8a2c" d="M758.5 376.7V381.1"/>
<path stroke="#c81818" d="M759.5 376.7V383.4"/>
<path stroke="#1f8a2c" d="M759.5 382.3V383.4"/>
<path stroke="#c81818" d="M760.5 382.3V388.0M761.5 388.0V393.6"/>
<path stroke="#1f8a2c" d="M761.5 390.1V393.6"/>
<path stroke="#c81818" d="M762.5 390.1V392.5M762.5 392.5V418.3M763.5 418.3V424.7"/>
<path stroke="#1f8a2c" d="M763.5 423.5V424.7M764.5 422.2V423.5M765.5 420.4V422.2M765.5 407.8V420.4M766.5 403.9V407.8"/>
<path stroke="#c81818" d="M766.5 403.9V407.6M767.5 407.6V408.4M767.5 407.8V408.6M768.5 408.6V409.4M769.5 408.9V409.7"/>
<path stroke="#1f8a2c" d="M769.5 407.3V409.7M770.5 400.9V407.3"/>
<path stroke="#c81818" d="M770.5 400.9V406.4"/>
<path stroke="#1f8a2c" d="M771.5 404.9V406.4"/>
<path stroke="#c81818" d="M771.5 404.9V405.7"/>
<path stroke="#1f8a2c" d="M772.5 400.2V405.7"/>
<path stroke="#c81818" d="M773.5 400.2V404.2"/>
<path stroke="#1f8a2c" d="M773.5 390.3V404.2M774.5 379.6V390.3M774.5 375.9V379.6"/>
<path stroke="#c81818" d="M775.5 375.9V387.4"/>
<path stroke="#1f8a2c" d="M775.5 380.6V387.4M776.5 376.7V380.6M777.5 361.4V376.7M777.5 354.4V361.4"/>
<path stroke="#c81818" d="M778.5 354.4V356.4"/>
<path stroke="#1f8a2c" d="M778.5 334.8V356.4M779.5 329.5V334.8"/>
<path stroke="#c81818" d="M779.5 329.5V332.2M780.5 332.2V333.3M781.5 333.3V338.5"/>
<path stroke="#1f8a2c" d="M781.5 325.3V338.5"/>
<path stroke="#c81818" d="M782.5 325.3V329.0M782.5 329.0V329.8M783.5 329.0V329.8M783.5 329.3V341.8M784.5 341.8V346.0"/>
<path stroke="#1f8a2c" d="M785.5 339.9V346.0"/>
<path stroke="#c81818" d="M785.5 339.9V344.0"/>
<path stroke="#1f8a2c" d="M786.5 342.5V344.0"/>
<path stroke="#c81818" d="M786.5 342.5V344.3"/>
<path stroke="#1f8a2c" d="M787.5 343.5V344.3M787.5 340.9V343.5M790.5 347.8V348.6"/>
<path stroke="#c81818" d="M790.5 347.8V379.9"/>
<path stroke="#1f8a2c" d="M791.5 367.6V379.9"/>
<path stroke="#c81818" d="M791.5 367.6V386.0M792.5 386.0V411.5M792.5 411.5V453.6"/>
<path stroke="#1f8a2c" d="M793.5 433.9V453.6M794.5 421.5V433.9M794.5 420.7V421.5M795.5 387.9V420.7M795.5 371.3V387.9"/>
<path stroke="#c81818" d="M796.5 371.3V372.9"/>
<path stroke="#1f8a2c" d="M796.5 349.5V372.9"/>
<path stroke="#c81818" d="M797.5 349.5V372.1"/>
<path stroke="#1f8a2c" d="M798.5 371.7V372.5"/>
<path stroke="#c81818" d="M798.5 371.7V375.8M799.5 375.8V384.4"/>
<path stroke="#1f8a2c" d="M799.5 381.8V384.4"/>
<path stroke="#c81818" d="M800.5 381.8V391.4M800.5 391.4V403.5M801.5 403.5V407.4"/>
<path stroke="#1f8a2c" d="M802.5 401.5V407.4M802.5 400.5V401.5M803.5 400.1V400.9M803.5 396.1V400.1M804.5 391.3V396.1M804.5 384.4V391.3M805.5 377.8V384.4"/>
<path stroke="#c81818" d="M806.5 377.8V387.1"/>
<path stroke="#1f8a2c" d="M806.5 367.0V387.1"/>
<path stroke="#c81818" d="M807.5 367.0V393.0M807.5 393.0V409.2M808.5 409.2V425.9M808.5 425.9V444.1"/>
<path stroke="#1f8a2c" d="M809.5 431.0V444.1"/>
<path stroke="#c81818" d="M810.5 431.0V436.1"/>
<path stroke="#1f8a2c" d="M810.5 418.9V436.1"/>
<path stroke="#c81818" d="M811.5 418.9V419.7"/>
<path stroke="#1f8a2c" d="M811.5 417.2V419.3"/>
<path stroke="#c81818" d="M812.5 417.2V432.1"/>
<path stroke="#1f8a2c" d="M812.5 424.8V432.1"/>
<path stroke="#c81818" d="M813.5 424.8V433.0M814.5 433.0V434.9"/>
<path stroke="#1f8a2c" d="M814.5 428.6V434.9M815.5 414.3V428.6"/>
<path stroke="#c81818" d="M815.5 414.3V418.0M816.5 418.0V428.1"/>
<path stroke="#1f8a2c" d="M816.5 427.3V428.1M817.5 413.8V427.3"/>
<path stroke="#c81818" d="M818.5 413.8V417.3M818.5 417.3V420.2"/>
<path stroke="#1f8a2c" d="M819.5 414.3V420.2M819.5 411.7V414.3M820.5 401.3V411.7"/>
<path stroke="#c81818" d="M820.5 401.3V408.5"/>
<path stroke="#1f8a2c" d="M821.5 404.6V408.5M821.5 397.9V404.6M822.5 389.8V397.9M823.5 383.1V389.8"/>
<path stroke="#c81818" d="M823.5 383.1V384.5M824.5 384.5V385.7"/>
<path stroke="#1f8a2c" d="M824.5 382.5V385.7M825.5 378.5V382.5M825.5 368.2V378.5M826.5 358.1V368.2"/>
<path stroke="#c81818" d="M827.5 358.1V361.3"/>
<path stroke="#1f8a2c" d="M827.5 351.5V361.3M828.5 342.9V351.5M828.5 338.6V342.9M829.5 323.0V338.6M829.5 320.2V323.0"/>
<path stroke="#c81818" d="M830.5 320.2V327.5"/>
<path stroke="#1f8a2c" d="M831.5 323.3V327.5M831.5 312.2V323.3M832.5 303.2V312.2"/>
<path stroke="#c81818" d="M832.5 303.2V304.6"/>
<path stroke="#1f8a2c" d="M833.5 284.4V304.6M833.5 273.0V284.4M834.5 253.9V273.0"/>
<path stroke="#c81818" d="M835.5 253.9V277.6"/>
<path stroke="#1f8a2c" d="M835.5 239.8V277.6M836.5 230.6V239.8M836.5 218.5V230.6M837.5 203.2V218.5M837.5 193.4V203.2"/>
<path stroke="#c81818" d="M838.5 193.4V204.4M839.5 204.4V215.3M839.5 215.3V232.2M840.5 232.2V234.2M840.5 234.2V241.4"/>
<path stroke="#1f8a2c" d="M841.5 227.4V241.4"/>
<path stroke="#c81818" d="M841.5 227.4V235.5M842.5 235.5V236.6"/>
<path stroke="#1f8a2c" d="M843.5 226.7V236.6"/>
<path stroke="#c81818" d="M843.5 226.7V229.6"/>
<path stroke="#1f8a2c" d="M844.5 223.1V229.6"/>
<path stroke="#c81818" d="M844.5 223.1V224.9"/>
<path stroke="#1f8a2c" d="M845.5 221.8V224.9M847.5 285.6V286.6M848.5 248.0V285.6"/>
<path stroke="#c81818" d="M848.5 248.0V251.4"/>
<path stroke="#1f8a2c" d="M849.5 250.8V251.6M849.5 240.0V250.8"/>
<path stroke="#c81818" d="M850.5 240.0V247.1"/>
<path stroke="#1f8a2c" d="M851.5 244.8V247.1M851.5 244.5V245.3M852.5 236.0V244.5M852.5 225.6V236.0"/>
<path stroke="#c81818" d="M853.5 225.6V227.2M853.5 227.2V233.3"/>
<path stroke="#1f8a2c" d="M854.5 232.8V233.6"/>
<path stroke="#c81818" d="M855.5 232.8V236.7M855.5 236.7V243.1M856.5 243.1V245.7"/>
<path stroke="#1f8a2c" d="M856.5 244.4V245.7"/>
<path stroke="#c81818" d="M857.5 244.4V256.2M857.5 256.2V257.0"/>
<path stroke="#1f8a2c" d="M858.5 252.5V256.7"/>
<path stroke="#c81818" d="M859.5 252.5V267.1"/>
<path stroke="#1f8a2c" d="M859.5 256.8V267.1M860.5 247.4V256.8"/>
<path stroke="#c81818" d="M860.5 247.4V254.0"/>
<path stroke="#1f8a2c" d="M861.5 244.0V254.0M861.5 242.9V244.0M862.5 241.0V242.9M863.5 236.0V241.0M863.5 229.5V236.0M864.5 224.9V229.5M864.5 220.9V224.9"/>
<path stroke="#c81818" d="M865.5 220.9V224.4M865.5 224.4V233.0M866.5 233.0V234.6"/>
<path stroke="#1f8a2c" d="M867.5 231.6V234.6M867.5 225.2V231.6M868.5 224.2V225.2"/>
<path stroke="#c81818" d="M868.5 224.2V225.3"/>
<path stroke="#1f8a2c" d="M869.5 224.0V225.3M869.5 218.0V224.0M870.5 217.8V218.6M871.5 214.8V217.8"/>
<path stroke="#c81818" d="M871.5 214.8V220.9"/>
<path stroke="#1f8a2c" d="M872.5 210.6V220.9M872.5 208.1V210.6"/>
<path stroke="#c81818" d="M873.5 208.1V213.2"/>
<path stroke="#1f8a2c" d="M873.5 211.6V213.2"/>
<path stroke="#c81818" d="M874.5 211.6V212.4"/>
<path stroke="#1f8a2c" d="M875.5 208.0V212.2M875.5 205.5V208.0M876.5 198.0V205.5M876.5 197.2V198.0M877.5 196.3V197.2M877.5 195.2V196.3M878.5 193.6V195.2"/>
<path stroke="#c81818" d="M879.5 193.6V194.4"/>
<path stroke="#1f8a2c" d="M879.5 188.1V194.0"/>
<path stroke="#c81818" d="M880.5 188.1V192.0M880.5 192.0V198.6M881.5 198.6V204.6"/>
<path stroke="#1f8a2c" d="M881.5 202.7V204.6M882.5 202.3V203.1"/>
<path stroke="#c81818" d="M883.5 202.3V206.2M883.5 206.2V207.2"/>
<path stroke="#1f8a2c" d="M884.5 206.5V207.3M884.5 205.0V206.5M885.5 200.3V205.0M885.5 197.7V200.3M886.5 189.5V197.7"/>
<path stroke="#c81818" d="M887.5 189.5V191.7"/>
<path stroke="#1f8a2c" d="M887.5 187.2V191.7"/>
<path stroke="#c81818" d="M888.5 187.2V191.0M888.5 191.0V192.7"/>
<path stroke="#1f8a2c" d="M889.5 189.8V192.7M889.5 180.6V189.8M890.5 177.7V180.6M891.5 168.1V177.7M891.5 167.6V168.4"/>
<path stroke="#c81818" d="M892.5 167.6V180.9M892.5 180.9V186.3M893.5 186.3V194.2M893.5 194.2V201.2M894.5 201.2V206.8"/>
<path stroke="#1f8a2c" d="M895.5 203.5V206.8M895.5 202.3V203.5"/>
<path stroke="#c81818" d="M896.5 202.3V210.1"/>
<path stroke="#1f8a2c" d="M896.5 210.0V210.8"/>
<path stroke="#c81818" d="M897.5 210.0V220.3M897.5 220.3V225.5M898.5 225.5V235.2M899.5 235.2V237.7M899.5 237.7V239.4"/>
<path stroke="#1f8a2c" d="M900.5 231.0V239.4"/>
<path stroke="#c81818" d="M900.5 231.0V235.2"/>
<path stroke="#1f8a2c" d="M901.5 233.7V235.2"/>
<path stroke="#c81818" d="M901.5 233.7V239.8M902.5 239.8V241.0M903.5 241.0V243.0"/>
<path stroke="#1f8a2c" d="M906.5 260.4V261.2"/>
<path stroke="#c81818" d="M906.5 260.4V292.2M907.5 292.2V301.1"/>
<path stroke="#1f8a2c" d="M908.5 280.1V301.1"/>
<path stroke="#c81818" d="M908.5 280.1V289.6M909.5 289.6V306.9"/>
<path stroke="#1f8a2c" d="M909.5 295.1V306.9"/>
<path stroke="#c81818" d="M910.5 295.1V301.8M910.5 301.8V317.2"/>
<path stroke="#1f8a2c" d="M911.5 314.8V317.2M912.5 307.3V314.8"/>
<path stroke="#c81818" d="M912.5 307.3V319.1"/>
<path stroke="#1f8a2c" d="M913.5 306.9V319.1"/>
<path stroke="#c81818" d="M913.5 306.9V311.7M914.5 311.7V329.5"/>
<path stroke="#1f8a2c" d="M914.5 308.7V329.5M915.5 306.9V308.7M916.5 296.8V306.9M916.5 272.9V296.8"/>
<path stroke="#c81818" d="M917.5 272.9V276.7"/>
<path stroke="#1f8a2c" d="M917.5 276.4V277.2"/>
<path stroke="#c81818" d="M918.5 276.4V282.1"/>
<path stroke="#1f8a2c" d="M918.5 268.2V282.1"/>
<path stroke="#c81818" d="M919.5 268.2V278.9"/>
<path stroke="#1f8a2c" d="M920.5 275.5V278.9"/>
<path stroke="#c81818" d="M920.5 275.5V276.7"/>
<path stroke="#1f8a2c" d="M921.5 269.7V276.7"/>
<path stroke="#c81818" d="M921.5 269.7V274.0"/>
<path stroke="#1f8a2c" d="M922.5 270.7V274.0"/>
<path stroke="#c81818" d="M922.5 270.7V272.7M923.5 272.7V273.7"/>
<path stroke="#1f8a2c" d="M924.5 264.1V273.7"/>
<path stroke="#c81818" d="M924.5 264.1V267.2"/>
<path stroke="#1f8a2c" d="M925.5 264.7V267.2"/>
<path stroke="#c81818" d="M925.5 264.7V273.6"/>
<path stroke="#1f8a2c" d="M926.5 272.7V273.6"/>
<path stroke="#c81818" d="M926.5 272.7V283.6"/>
<path stroke="#1f8a2c" d="M927.5 269.3V283.6"/>
<path stroke="#c81818" d="M928.5 269.3V276.2M928.5 276.2V278.1"/>
<path stroke="#1f8a2c" d="M929.5 271.5V278.1"/>
<path stroke="#c81818" d="M929.5 271.5V273.2"/>
<path stroke="#1f8a2c" d="M930.5 273.1V273.9"/>
<path stroke="#c81818" d="M930.5 273.1V274.6"/>
<path stroke="#1f8a2c" d="M931.5 266.0V274.6"/>
<path stroke="#c81818" d="M932.5 266.0V275.5"/>
<path stroke="#1f8a2c" d="M932.5 271.7V275.5M933.5 265.7V271.7"/>
<path stroke="#c81818" d="M933.5 265.7V266.5"/>
<path stroke="#1f8a2c" d="M934.5 254.0V265.8"/>
<path stroke="#c81818" d="M934.5 254.0V264.7"/>
<path stroke="#1f8a2c" d="M935.5 256.3V264.7M936.5 242.9V256.3M936.5 241.8V242.9"/>
<path stroke="#c81818" d="M937.5 241.8V264.3"/>
<path stroke="#1f8a2c" d="M937.5 260.9V264.3M938.5 250.5V260.9M938.5 245.1V250.5"/>
<path stroke="#c81818" d="M939.5 245.1V245.9"/>
<path stroke="#1f8a2c" d="M940.5 237.2V245.2"/>
<path stroke="#c81818" d="M940.5 237.2V244.7"/>
<path stroke="#1f8a2c" d="M941.5 244.3V245.1"/>
<path stroke="#c81818" d="M941.5 244.3V247.8M942.5 247.8V252.0"/>
<path stroke="#1f8a2c" d="M942.5 243.1V252.0"/>
<path stroke="#c81818" d="M943.5 243.1V247.9M943.5 247.9V264.1"/>
<path stroke="#1f8a2c" d="M944.5 264.1V264.9"/>
<path stroke="#c81818" d="M945.5 264.1V267.9"/>
<path stroke="#1f8a2c" d="M945.5 263.8V267.9"/>
<path stroke="#c81818" d="M946.5 263.8V266.3"/>
<path stroke="#1f8a2c" d="M946.5 255.0V266.3M947.5 250.7V255.0M947.5 228.2V250.7"/>
<path stroke="#c81818" d="M948.5 228.2V252.3"/>
<path stroke="#1f8a2c" d="M949.5 245.1V252.3M949.5 243.0V245.1"/>
<path stroke="#c81818" d="M950.5 243.0V252.4M950.5 252.4V273.5"/>
<path stroke="#1f8a2c" d="M951.5 265.9V273.5"/>
<path stroke="#c81818" d="M951.5 265.9V276.0M952.5 276.0V282.9M953.5 282.9V285.2M953.5 285.2V288.0M954.5 288.0V288.8M954.5 288.4V290.1"/>
<path stroke="#1f8a2c" d="M955.5 280.3V290.1M955.5 276.2V280.3M956.5 270.7V276.2"/>
<path stroke="#c81818" d="M957.5 270.7V278.5"/>
<path stroke="#1f8a2c" d="M957.5 256.8V278.5"/>
<path stroke="#c81818" d="M958.5 256.8V259.3"/>
<path stroke="#1f8a2c" d="M958.5 222.4V259.3M959.5 216.7V222.4"/>
<path stroke="#c81818" d="M959.5 216.7V223.7"/>
<path stroke="#1f8a2c" d="M960.5 210.7V223.7"/>
<path stroke="#c81818" d="M961.5 210.7V216.6M961.5 216.6V224.4"/>
<path stroke="#1f8a2c" d="M962.5 222.5V224.4"/>
<path stroke="#c81818" d="M962.5 222.5V227.2M964.5 308.6V309.5"/>
<path stroke="#1f8a2c" d="M965.5 309.3V310.1"/>
<path stroke="#c81818" d="M966.5 309.3V352.2"/>
<path stroke="#1f8a2c" d="M966.5 331.1V352.2"/>
<path stroke="#c81818" d="M967.5 331.1V374.6M967.5 374.6V396.0M968.5 396.0V400.5M968.5 400.5V414.7"/>
<path stroke="#1f8a2c" d="M969.5 414.0V414.8"/>
<path stroke="#c81818" d="M970.5 414.0V462.0M970.5 462.0V477.9"/>
<path stroke="#1f8a2c" d="M971.5 448.5V477.9"/>
<path stroke="#c81818" d="M971.5 448.5V484.2"/>
<path stroke="#1f8a2c" d="M972.5 479.3V484.2M972.5 461.8V479.3M973.5 460.5V461.8M974.5 427.4V460.5M974.5 408.3V427.4M975.5 401.5V408.3M975.5 365.4V401.5"/>
<path stroke="#c81818" d="M976.5 365.4V373.5"/>
<path stroke="#1f8a2c" d="M976.5 358.4V373.5"/>
<path stroke="#c81818" d="M977.5 358.4V361.2"/>
<path stroke="#1f8a2c" d="M978.5 356.4V361.2M978.5 351.8V356.4"/>
<path stroke="#c81818" d="M979.5 351.8V366.8"/>
<path stroke="#1f8a2c" d="M979.5 348.1V366.8"/>
<path stroke="#c81818" d="M980.5 348.1V365.0"/>
<path stroke="#1f8a2c" d="M980.5 359.5V365.0M981.5 353.0V359.5"/>
<path stroke="#c81818" d="M982.5 353.0V371.9"/>
<path stroke="#1f8a2c" d="M982.5 343.3V371.9M983.5 333.0V343.3"/>
<path stroke="#c81818" d="M983.5 333.0V337.6M984.5 337.6V350.2"/>
<path stroke="#1f8a2c" d="M984.5 347.4V350.2"/>
<path stroke="#c81818" d="M985.5 347.4V358.4M985.5 358.4V359.6"/>
<path stroke="#1f8a2c" d="M986.5 354.5V359.6"/>
<path stroke="#c81818" d="M987.5 354.5V381.6"/>
<path stroke="#1f8a2c" d="M987.5 367.0V381.6M988.5 363.4V367.0"/>
<path stroke="#c81818" d="M988.5 363.4V369.5M989.5 369.5V388.8M989.5 388.8V394.4"/>
<path stroke="#1f8a2c" d="M990.5 382.0V394.4M991.5 379.0V382.0"/>
<path stroke="#c81818" d="M991.5 379.0V403.5M992.5 403.5V432.5"/>
<path stroke="#1f8a2c" d="M992.5 430.1V432.5M993.5 404.3V430.1M993.5 401.9V404.3M994.5 387.7V401.9"/>
<path stroke="#c81818" d="M995.5 387.7V394.7M995.5 394.7V400.3"/>
<path stroke="#1f8a2c" d="M996.5 398.4V400.3M996.5 388.9V398.4"/>
<path stroke="#c81818" d="M997.5 388.9V392.1"/>
<path stroke="#1f8a2c" d="M997.5 380.8V392.1M998.5 380.0V380.8"/>
<path stroke="#c81818" d="M999.5 380.0V393.8"/>
<path stroke="#1f8a2c" d="M999.5 392.1V393.8M1000.5 390.0V392.1M1000.5 387.2V390.0M1001.5 381.6V387.2M1001.5 373.6V381.6M1002.5 370.0V373.6M1003.5 364.3V370.0M1003.5 363.8V364.6M1004.5 353.7V363.8"/>
<path stroke="#c81818" d="M1004.5 353.7V363.8"/>
<path stroke="#1f8a2c" d="M1005.5 349.0V363.8"/>
<path stroke="#c81818" d="M1005.5 349.0V354.4M1006.5 354.4V358.0"/>
<path stroke="#1f8a2c" d="M1007.5 356.7V358.0"/>
<path stroke="#c81818" d="M1007.5 356.7V368.8M1008.5 368.8V374.6"/>
<path stroke="#1f8a2c" d="M1008.5 371.7V374.6"/>
<path stroke="#c81818" d="M1009.5 371.7V377.5M1009.5 377.5V378.3M1010.5 377.7V381.6M1011.5 381.6V396.9"/>
<path stroke="#1f8a2c" d="M1011.5 388.0V396.9"/>
<path stroke="#c81818" d="M1012.5 388.0V389.6M1012.5 389.6V425.2"/>
<path stroke="#1f8a2c" d="M1013.5 408.2V425.2"/>
<path stroke="#c81818" d="M1013.5 408.2V411.7"/>
<path stroke="#1f8a2c" d="M1014.5 399.7V411.7"/>
<path stroke="#c81818" d="M1015.5 399.7V400.5"/>
<path stroke="#1f8a2c" d="M1015.5 390.6V399.9M1016.5 372.2V390.6M1016.5 355.3V372.2"/>
<path stroke="#c81818" d="M1017.5 355.3V368.9"/>
<path stroke="#1f8a2c" d="M1017.5 349.8V368.9M1018.5 340.9V349.8"/>
<path stroke="#c81818" d="M1019.5 340.9V347.9"/>
<path stroke="#1f8a2c" d="M1019.5 335.7V347.9"/>
<path stroke="#c81818" d="M1020.5 335.7V336.7M1023.5 451.8V453.6"/>
<path stroke="#1f8a2c" d="M1024.5 409.7V453.6"/>
<path stroke="#c81818" d="M1025.5 409.7V442.2"/>
<path stroke="#1f8a2c" d="M1025.5 415.6V442.2M1026.5 414.6V415.6M1026.5 408.5V414.6M1027.5 366.2V408.5M1027.5 358.5V366.2"/>
<path stroke="#c81818" d="M1028.5 358.5V369.0"/>
<path stroke="#1f8a2c" d="M1029.5 355.2V369.0M1029.5 321.3V355.2"/>
<path stroke="#c81818" d="M1030.5 321.3V330.6M1030.5 330.6V333.3"/>
<path stroke="#1f8a2c" d="M1031.5 317.0V333.3M1031.5 315.2V317.0M1032.5 307.3V315.2"/>
<path stroke="#c81818" d="M1033.5 307.3V308.4M1033.5 308.4V311.7"/>
<path stroke="#1f8a2c" d="M1034.5 301.5V311.7M1034.5 298.2V301.5"/>
<path stroke="#c81818" d="M1035.5 298.2V309.2"/>
<path stroke="#1f8a2c" d="M1035.5 290.9V309.2"/>
<path stroke="#c81818" d="M1036.5 290.9V302.1"/>
<path stroke="#1f8a2c" d="M1037.5 287.3V302.1"/>
<path stroke="#c81818" d="M1037.5 287.3V288.3"/>
<path stroke="#1f8a2c" d="M1038.5 288.1V288.9M1038.5 287.2V288.1"/>
<path stroke="#c81818" d="M1039.5 287.2V297.9M1039.5 297.9V302.4M1040.5 302.4V310.7M1041.5 310.7V315.4"/>
<path stroke="#1f8a2c" d="M1041.5 308.5V315.4"/>
<path stroke="#c81818" d="M1042.5 308.5V322.9M1042.5 322.9V328.7M1043.5 328.7V329.9M1043.5 329.9V332.9M1044.5 332.9V343.4M1044.5 343.4V345.5"/>
<path stroke="#1f8a2c" d="M1045.5 343.0V345.5"/>
<path stroke="#c81818" d="M1046.5 343.0V349.3"/>
<path stroke="#1f8a2c" d="M1046.5 340.2V349.3M1047.5 336.4V340.2M1047.5 326.6V336.4M1048.5 318.6V326.6"/>
<path stroke="#c81818" d="M1048.5 318.6V319.5M1049.5 319.5V320.3M1050.5 319.6V329.2"/>
<path stroke="#1f8a2c" d="M1050.5 322.3V329.2"/>
<path stroke="#c81818" d="M1051.5 322.3V328.3"/>
<path stroke="#1f8a2c" d="M1051.5 325.7V328.3"/>
<path stroke="#c81818" d="M1052.5 325.7V329.4"/>
<path stroke="#1f8a2c" d="M1052.5 317.2V329.4"/>
<path stroke="#c81818" d="M1053.5 317.2V326.9"/>
<path stroke="#1f8a2c" d="M1054.5 317.9V326.9M1054.5 313.0V317.9M1055.5 306.1V313.0M1055.5 304.6V306.1M1056.5 300.7V304.6M1056.5 287.9V300.7"/>
<path stroke="#c81818" d="M1057.5 287.9V292.1M1058.5 292.1V298.9"/>
<path stroke="#1f8a2c" d="M1058.5 296.0V298.9M1059.5 286.6V296.0M1059.5 275.2V286.6M1060.5 270.9V275.2M1060.5 268.1V270.9M1061.5 259.9V268.1"/>
<path stroke="#c81818" d="M1062.5 259.9V261.0"/>
<path stroke="#1f8a2c" d="M1062.5 260.6V261.4"/>
<path stroke="#c81818" d="M1063.5 260.6V264.0M1063.5 264.0V268.7M1064.5 268.7V270.6M1064.5 270.6V301.5M1065.5 301.5V311.9M1066.5 311.9V315.4"/>
<path stroke="#1f8a2c" d="M1066.5 309.3V315.4"/>
<path stroke="#c81818" d="M1067.5 309.3V338.2"/>
<path stroke="#1f8a2c" d="M1067.5 327.8V338.2"/>
<path stroke="#c81818" d="M1068.5 327.8V341.4M1068.5 341.4V343.6M1069.5 343.6V351.6"/>
<path stroke="#1f8a2c" d="M1070.5 350.3V351.6M1070.5 350.1V350.9M1071.5 348.8V350.1"/>
<path stroke="#c81818" d="M1071.5 348.8V353.7M1072.5 353.7V360.1"/>
<path stroke="#1f8a2c" d="M1072.5 354.5V360.1"/>
<path stroke="#c81818" d="M1073.5 354.5V357.4M1074.5 357.4V369.3"/>
<path stroke="#1f8a2c" d="M1074.5 363.9V369.3"/>
<path stroke="#c81818" d="M1075.5 363.9V366.9M1075.5 366.9V370.2"/>
<path stroke="#1f8a2c" d="M1076.5 360.1V370.2"/>
<path stroke="#c81818" d="M1076.5 360.1V370.2"/>
<path stroke="#1f8a2c" d="M1077.5 350.4V370.2M1078.5 335.4V350.4"/>
<path stroke="#c81818" d="M1078.5 335.4V338.8M1081.5 195.5V197.4M1082.5 197.4V216.7M1082.5 216.7V240.9M1083.5 240.9V264.0M1083.5 264.0V288.1M1084.5 288.1V294.1"/>
<path stroke="#1f8a2c" d="M1084.5 289.9V294.1M1085.5 284.8V289.9M1086.5 253.0V284.8"/>
<path stroke="#c81818" d="M1086.5 253.0V298.5"/>
<path stroke="#1f8a2c" d="M1087.5 291.6V298.5"/>
<path stroke="#c81818" d="M1087.5 291.6V306.2M1088.5 306.2V322.0M1088.5 322.0V339.3"/>
<path stroke="#1f8a2c" d="M1089.5 338.8V339.6"/>
<path stroke="#c81818" d="M1090.5 338.8V360.4M1090.5 360.4V390.3M1091.5 390.3V415.9"/>
<path stroke="#1f8a2c" d="M1091.5 401.8V415.9"/>
<path stroke="#c81818" d="M1092.5 401.8V455.4M1092.5 455.4V456.6"/>
<path stroke="#1f8a2c" d="M1093.5 453.2V456.6"/>
<path stroke="#c81818" d="M1094.5 453.2V468.3M1094.5 468.3V470.1"/>
<path stroke="#1f8a2c" d="M1095.5 464.9V470.1M1095.5 444.3V464.9M1096.5 424.0V444.3"/>
<path stroke="#c81818" d="M1096.5 424.0V437.4"/>
<path stroke="#1f8a2c" d="M1097.5 426.6V437.4M1098.5 408.6V426.6"/>
<path stroke="#c81818" d="M1098.5 408.6V410.5"/>
<path stroke="#1f8a2c" d="M1099.5 408.9V410.5M1099.5 403.2V408.9M1100.5 395.4V403.2M1100.5 374.7V395.4"/>
<path stroke="#c81818" d="M1101.5 374.7V388.4M1102.5 388.4V396.6M1102.5 396.6V399.7M1103.5 399.7V403.3M1103.5 403.3V417.1"/>
<path stroke="#1f8a2c" d="M1104.5 404.3V417.1"/>
<path stroke="#c81818" d="M1104.5 404.3V412.4M1105.5 412.4V427.7"/>
<path stroke="#1f8a2c" d="M1106.5 426.0V427.7"/>
<path stroke="#c81818" d="M1106.5 426.0V441.9"/>
<path stroke="#1f8a2c" d="M1107.5 437.4V441.9M1107.5 429.4V437.4M1108.5 425.9V429.4M1108.5 421.7V425.9M1109.5 409.3V421.7M1110.5 404.1V409.3M1110.5 393.4V404.1M1111.5 391.3V393.4M1111.5 381.2V391.3M1112.5 362.3V381.2M1112.5 358.3V362.3"/>
<path stroke="#c81818" d="M1113.5 358.3V360.6M1114.5 360.6V377.8"/>
<path stroke="#1f8a2c" d="M1114.5 366.9V377.8M1115.5 353.5V366.9"/>
<path stroke="#c81818" d="M1115.5 353.5V364.7"/>
<path stroke="#1f8a2c" d="M1116.5 345.8V364.7M1116.5 328.7V345.8"/>
<path stroke="#c81818" d="M1117.5 328.7V337.4"/>
<path stroke="#1f8a2c" d="M1117.5 312.0V337.4M1118.5 307.8V312.0M1119.5 298.9V307.8"/>
<path stroke="#c81818" d="M1119.5 298.9V304.3"/>
<path stroke="#1f8a2c" d="M1120.5 292.7V304.3M1120.5 288.8V292.7"/>
<path stroke="#c81818" d="M1121.5 288.8V289.8"/>
<path stroke="#1f8a2c" d="M1121.5 282.0V289.8M1122.5 274.3V282.0"/>
<path stroke="#c81818" d="M1123.5 274.3V280.0"/>
<path stroke="#1f8a2c" d="M1123.5 265.5V280.0"/>
<path stroke="#c81818" d="M1124.5 265.5V275.5"/>
<path stroke="#1f8a2c" d="M1124.5 265.2V275.5M1125.5 249.8V265.2M1125.5 240.5V249.8"/>
<path stroke="#c81818" d="M1126.5 240.5V247.8"/>
<path stroke="#1f8a2c" d="M1127.5 245.6V247.8"/>
<path stroke="#c81818" d="M1127.5 245.6V247.3"/>
<path stroke="#1f8a2c" d="M1128.5 214.2V247.3"/>
<path stroke="#c81818" d="M1128.5 214.2V215.0"/>
<path stroke="#1f8a2c" d="M1129.5 186.5V214.8"/>
<path stroke="#c81818" d="M1129.5 186.5V204.7"/>
<path stroke="#1f8a2c" d="M1130.5 196.2V204.7"/>
<path stroke="#c81818" d="M1131.5 196.2V197.4"/>
<path stroke="#1f8a2c" d="M1131.5 196.2V197.4"/>
<path stroke="#c81818" d="M1132.5 196.2V207.6M1132.5 207.6V238.9"/>
<path stroke="#1f8a2c" d="M1133.5 221.6V238.9M1133.5 215.0V221.6M1134.5 200.7V215.0M1135.5 190.4V200.7M1135.5 186.9V190.4M1136.5 175.9V186.9"/>
<path stroke="#c81818" d="M1136.5 175.9V177.2"/>
<path stroke="#1f8a2c" d="M1137.5 163.8V177.2M1137.5 156.0V163.8M1140.5 68.1V68.9M1141.5 62.5V68.1"/>
<path stroke="#c81818" d="M1141.5 62.5V77.0M1142.5 77.0V92.6M1142.5 92.6V115.3M1143.5 115.3V126.2M1143.5 126.2V181.3M1144.5 181.3V223.8"/>
<path stroke="#1f8a2c" d="M1145.5 218.3V223.8"/>
<path stroke="#c81818" d="M1145.5 218.3V247.9M1146.5 247.9V259.1"/>
<path stroke="#1f8a2c" d="M1146.5 231.7V259.1"/>
<path stroke="#c81818" d="M1147.5 231.7V254.0"/>
<path stroke="#1f8a2c" d="M1147.5 249.8V254.0M1148.5 231.7V249.8M1149.5 225.2V231.7"/>
<path stroke="#c81818" d="M1149.5 225.2V246.9"/>
<path stroke="#1f8a2c" d="M1150.5 226.5V246.9M1150.5 217.4V226.5M1151.5 212.3V217.4"/>
<path stroke="#c81818" d="M1151.5 212.3V227.7M1152.5 227.7V245.0M1153.5 245.0V246.5"/>
<path stroke="#1f8a2c" d="M1153.5 242.0V246.5M1154.5 231.0V242.0"/>
<path stroke="#c81818" d="M1154.5 231.0V240.0"/>
<path stroke="#1f8a2c" d="M1155.5 215.6V240.0"/>
<path stroke="#c81818" d="M1155.5 215.6V222.7"/>
<path stroke="#1f8a2c" d="M1156.5 205.0V222.7"/>
<path stroke="#c81818" d="M1157.5 205.0V208.0M1157.5 208.0V211.5"/>
<path stroke="#1f8a2c" d="M1158.5 210.0V211.5M1158.5 200.9V210.0"/>
<path stroke="#c81818" d="M1159.5 200.9V229.8M1159.5 229.8V238.1"/>
<path stroke="#1f8a2c" d="M1160.5 231.6V238.1M1161.5 220.9V231.6M1161.5 206.1V220.9M1162.5 205.1V206.1"/>
<path stroke="#c81818" d="M1162.5 205.1V212.8"/>
<path stroke="#1f8a2c" d="M1163.5 199.4V212.8M1163.5 196.7V199.4"/>
<path stroke="#c81818" d="M1164.5 196.7V208.8M1165.5 208.8V212.2"/>
<path stroke="#1f8a2c" d="M1165.5 203.4V212.2M1166.5 201.1V203.4"/>
<path stroke="#c81818" d="M1166.5 201.1V204.9M1167.5 204.9V210.3"/>
<path stroke="#1f8a2c" d="M1167.5 201.3V210.3"/>
<path stroke="#c81818" d="M1168.5 201.3V210.7M1169.5 210.7V221.7M1169.5 221.7V222.5M1170.5 222.4V225.2M1170.5 225.2V227.7"/>
<path stroke="#1f8a2c" d="M1171.5 217.1V227.7"/>
<path stroke="#c81818" d="M1171.5 217.1V236.0M1172.5 236.0V238.1M1173.5 238.1V242.3"/>
<path stroke="#1f8a2c" d="M1173.5 240.5V242.3"/>
<path stroke="#c81818" d="M1174.5 240.5V246.2M1174.5 246.2V251.8M1175.5 251.8V259.8M1175.5 259.8V261.0"/>
<path stroke="#1f8a2c" d="M1176.5 256.6V261.0M1177.5 255.6V256.6"/>
<path stroke="#c81818" d="M1177.5 255.6V257.0M1178.5 257.0V271.7"/>
<path stroke="#1f8a2c" d="M1178.5 255.0V271.7"/>
<path stroke="#c81818" d="M1179.5 255.0V276.3"/>
<path stroke="#1f8a2c" d="M1179.5 258.7V276.3M1180.5 250.1V258.7M1181.5 237.2V250.1"/>
<path stroke="#c81818" d="M1181.5 237.2V241.9"/>
<path stroke="#1f8a2c" d="M1182.5 239.9V241.9"/>
<path stroke="#c81818" d="M1182.5 239.9V262.1"/>
<path stroke="#1f8a2c" d="M1183.5 254.2V262.1M1183.5 253.6V254.4"/>
<path stroke="#c81818" d="M1184.5 253.6V264.5M1185.5 264.5V281.8M1185.5 281.8V294.0M1186.5 294.0V345.1M1186.5 345.1V366.4M1187.5 366.4V383.9M1187.5 383.9V412.0"/>
<path stroke="#1f8a2c" d="M1188.5 400.4V412.0"/>
<path stroke="#c81818" d="M1189.5 400.4V405.1M1189.5 405.1V407.8M1190.5 407.8V433.1"/>
<path stroke="#1f8a2c" d="M1190.5 432.4V433.2"/>
<path stroke="#c81818" d="M1191.5 432.4V433.3M1191.5 433.3V443.1M1192.5 443.1V451.9"/>
<path stroke="#1f8a2c" d="M1193.5 448.2V451.9"/>
<path stroke="#c81818" d="M1193.5 448.2V461.0M1194.5 461.0V467.9"/>
<path stroke="#1f8a2c" d="M1194.5 457.7V467.9"/>
<path stroke="#c81818" d="M1195.5 457.7V459.5"/>
<path stroke="#707070" d="M569.5 208.0V297.0"/>
<path stroke="#1f8a2c" d="M569.5 216.0V279.0"/>
<path stroke="#707070" d="M1094.5 470.0V505.5"/>
<path stroke="#c81818" d="M1094.5 474.0V500.0"/>
<path stroke="#707070" d="M1095.5 480.0V500.0"/>
<path stroke="#c81818" d="M1095.5 480.0V499.0"/>
<path stroke="#707070" d="M1096.5 440.0V487.0"/>
<path stroke="#1f8a2c" d="M1096.5 442.0V486.0"/>
<path stroke="#707070" d="M1140.5 20.0V112.0"/>
<path stroke="#1f8a2c" d="M1140.5 38.5V111.7"/>
<path stroke="#707070" d="M1141.5 36.0V95.0"/>
<path stroke="#c81818" d="M1141.5 38.0V90.0"/>
<path stroke="#707070" d="M1142.5 78.0V138.0"/>
<path stroke="#c81818" d="M1142.5 82.0V135.0"/>
<path stroke="#707070" d="M1143.5 112.0V168.0"/>
<path stroke="#c81818" d="M1143.5 116.0V165.0"/>
</g>
<path d="M1298.5 153.5V190.5M1295.5 414.5V503.5" stroke="#6a6a6a" stroke-width="1" fill="none"/>
<path d="M1298.5 153.5H568.5V190.5H1298.5" stroke="#111" stroke-width="1" fill="none"/>
<path d="M1295.5 414.5H730.5V503.5H1295.5" stroke="#2a2a2a" stroke-width="1" fill="none"/>
<rect x="0" y="561" width="1299" height="372" fill="rgba(78,178,246,0.22)"/>
<text x="755.5" y="551.3" font-size="44.5" fill="#3e8b9e" textLength="531" lengthAdjust="spacingAndGlyphs">Tradingsetup wie Ende April?</text>
<path d="M1299.5 0V933" stroke="#dcdcdc" stroke-width="1"/>
<path d="M1300 37.5H1304M1300 112.5H1304M1300 188.5H1304M1300 263.5H1304M1300 338.5H1304M1300 413.5H1304M1300 488.5H1304M1300 563.5H1304M1300 638.5H1304M1300 713.5H1304M1300 788.5H1304M1300 863.5H1304" stroke="#888" stroke-width="1"/>
<text class="yl" x="1310.5" y="41" textLength="53.4">16.000,00</text>
<text class="yl" x="1310.5" y="116" textLength="53.4">15.950,00</text>
<text class="yl" x="1310.5" y="192" textLength="53.4">15.900,00</text>
<text class="yl" x="1310.5" y="267" textLength="53.4">15.850,00</text>
<text class="yl" x="1310.5" y="342" textLength="53.4">15.800,00</text>
<text class="yl" x="1310.5" y="417" textLength="53.4">15.750,00</text>
<text class="yl" x="1310.5" y="492" textLength="53.4">15.700,00</text>
<text class="yl" x="1310.5" y="567" textLength="53.4">15.650,00</text>
<text class="yl" x="1310.5" y="642" textLength="53.4">15.600,00</text>
<text class="yl" x="1310.5" y="717" textLength="53.4">15.550,00</text>
<text class="yl" x="1310.5" y="792" textLength="53.4">15.500,00</text>
<text class="yl" x="1310.5" y="867" textLength="53.4">15.450,00</text>
<text class="xl" x="35.5" y="927" text-anchor="middle">31</text>
<text class="xl" x="94.5" y="927" text-anchor="middle">Apr</text>
<text class="xl" x="159.5" y="927" text-anchor="middle">4</text>
<text class="xl" x="217.5" y="927" text-anchor="middle">5</text>
<text class="xl" x="276.5" y="927" text-anchor="middle">6</text>
<text class="xl" x="335.5" y="927" text-anchor="middle">11</text>
<text class="xl" x="393.5" y="927" text-anchor="middle">12</text>
<text class="xl" x="452.5" y="927" text-anchor="middle">13</text>
<text class="xl" x="510.5" y="927" text-anchor="middle">14</text>
<text class="xl" x="569.5" y="927" text-anchor="middle">17</text>
<text class="xl" x="613.5" y="927" text-anchor="middle">18</text>
<text class="xl" x="672.5" y="927" text-anchor="middle">19</text>
<text class="xl" x="730.5" y="927" text-anchor="middle">20</text>
<text class="xl" x="789.5" y="927" text-anchor="middle">21</text>
<text class="xl" x="847.5" y="927" text-anchor="middle">24</text>
<text class="xl" x="906.5" y="927" text-anchor="middle">25</text>
<text class="xl" x="964.5" y="927" text-anchor="middle">26</text>
<text class="xl" x="1023.5" y="927" text-anchor="middle">27</text>
<text class="xl" x="1081.5" y="927" text-anchor="middle">28</text>
<text class="xl" x="1140.5" y="927" text-anchor="middle">Mai</text>
<path d="M35.5 930V933M94.5 930V933M159.5 930V933M217.5 930V933M276.5 930V933M335.5 930V933M393.5 930V933M452.5 930V933M510.5 930V933M569.5 930V933M613.5 930V933M672.5 930V933M730.5 930V933M789.5 930V933M847.5 930V933M906.5 930V933M964.5 930V933M1023.5 930V933M1081.5 930V933M1140.5 930V933" stroke="#444" stroke-width="1"/>
<path d="M1299 448.5L1307 439H1370V458H1307Z" fill="#ef5b5b"/>
<text x="1310.5" y="453" font-size="12" fill="#000">15.726,94</text>
<g stroke="#e95454" fill="none" stroke-width="1"><path d="M7.5 13.5V17.9M11.5 7.1V11.5M11.5 15.5V17.9M15.5 9.1V13.4"/><rect x="6.5" y="9.4" width="2" height="4"/><rect x="10.5" y="11.5" width="2" height="4"/><rect x="14.5" y="13.4" width="2" height="4"/></g>
<text x="23.5" y="16.8" font-size="10.8" fill="#e95454" xml:space="preserve" textLength="366.3">DAX (XETRA, Last)  O: 15.726,94  H: 15.726,94  L: 15.726,94  C: 15.726,94</text>
<g stroke="#333" fill="none" stroke-width="1"><circle cx="12.5" cy="28.3" r="5"/><path d="M12.3 25.3V28.5L14.5 30.5"/></g>
<text x="23.5" y="32.6" font-size="10.8" fill="#444" xml:space="preserve" textLength="285.4">30.03.2023 12:30 - 02.05.2023 17:55   (1 Monat, 5 Minuten)</text>
<rect x="36.1" y="796.2" width="57.8" height="57.9" rx="3.8" fill="#7baef0"/>
<path d="M50.85 807.1H79.1L73.5 814.2H50.85Z" fill="#c1d9f7"/>
<path d="M50.5 830.9A14.4 14.4 0 1 0 70.76 817.75L65.3 823.9A7 7 0 1 1 57.9 830.9Z" fill="#c1d9f7"/>
<text x="104.6" y="835.6" font-size="28" fill="#717b83" stroke="#717b83" stroke-width="0.45" textLength="147" lengthAdjust="spacingAndGlyphs">stock3.com</text>
<g font-weight="bold" fill="#262c33" font-size="35"><text x="35.2" y="890.9" textLength="12" lengthAdjust="spacingAndGlyphs">J</text><text x="49.6" y="890.9" textLength="18.8" lengthAdjust="spacingAndGlyphs">F</text><text x="72.5" y="890.9" textLength="18.2" lengthAdjust="spacingAndGlyphs">D</text></g>
<rect x="69" y="866" width="9.3" height="25" fill="#d8eefd"/><rect x="73.5" y="866.1" width="5" height="4.7" fill="#262c33"/><rect x="73.5" y="886.2" width="5" height="4.7" fill="#262c33"/>
<path d="M71.6 866V891" stroke="#262c33" stroke-width="0.9"/><rect x="70" y="874.8" width="3.3" height="7.9" fill="#262c33"/>
<text x="36" y="901.9" font-size="9.3" fill="#8a9096" textLength="53.3" lengthAdjust="spacingAndGlyphs">BROKERS</text>
<text x="105.2" y="884.1" font-size="16.5" font-weight="bold" fill="#0e2b4f" style="font-family:'DejaVu Serif',serif" textLength="95.8" lengthAdjust="spacingAndGlyphs">Bernstein‘s</text>
<path d="M204.1 880.1h2.5v4h-2.5zM208.4 874.4h3v9.7h-3zM213.1 866.8h2.9v17.3h-2.9z" fill="#2bb5e8"/>
<path d="M189.1 887.1h2.3v7.1h-2.3zM193.5 887.1h3.2v11.3h-3.2zM198.2 887.1h2.5v4.1h-2.5z" fill="#e3141e"/>
<text x="204.3" y="899.3" font-size="16.5" fill="#0e2b4f" style="font-family:'DejaVu Serif',serif" textLength="45.9" lengthAdjust="spacingAndGlyphs">Börse</text>
</svg></body></html>
